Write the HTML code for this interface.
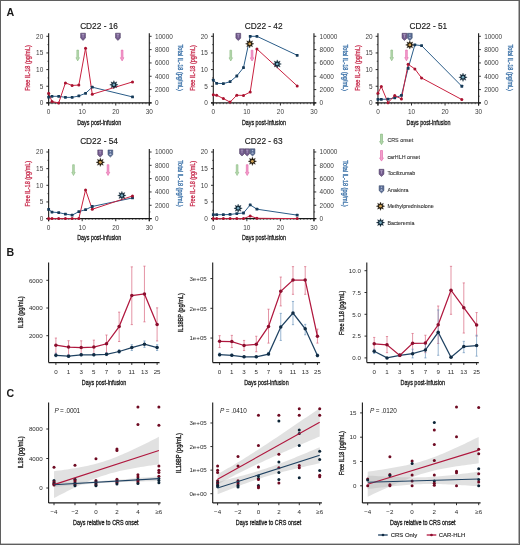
<!DOCTYPE html>
<html><head><meta charset="utf-8"><style>
html,body{margin:0;padding:0;background:#fff;}
body{width:520px;height:545px;overflow:hidden;}
svg{display:block;will-change:transform;filter:blur(0.3px);}
text{font-family:"Liberation Sans", sans-serif;}
</style></head><body>
<svg width="520" height="545" viewBox="0 0 520 545">
<text x="6.5" y="16.0" font-size="10.7" font-weight="bold" fill="#1a1a1a">A</text>
<text x="99.05" y="28.90" font-size="8.3" fill="#1a1a1a" text-anchor="middle" stroke="#1a1a1a" stroke-width="0.15">CD22 - 16</text>
<line x1="48.65" y1="33.30" x2="48.65" y2="105.50" stroke="#1a1a1a" stroke-width="1.1" />
<line x1="46.35" y1="102.90" x2="48.65" y2="102.90" stroke="#1a1a1a" stroke-width="0.9" />
<text x="43.25" y="105.15" font-size="6.45" fill="#404040" text-anchor="end" >0</text>
<line x1="46.35" y1="86.25" x2="48.65" y2="86.25" stroke="#1a1a1a" stroke-width="0.9" />
<text x="43.25" y="88.50" font-size="6.45" fill="#404040" text-anchor="end" >5</text>
<line x1="46.35" y1="69.60" x2="48.65" y2="69.60" stroke="#1a1a1a" stroke-width="0.9" />
<text x="43.25" y="71.85" font-size="6.45" fill="#404040" text-anchor="end" >10</text>
<line x1="46.35" y1="52.95" x2="48.65" y2="52.95" stroke="#1a1a1a" stroke-width="0.9" />
<text x="43.25" y="55.20" font-size="6.45" fill="#404040" text-anchor="end" >15</text>
<line x1="46.35" y1="36.30" x2="48.65" y2="36.30" stroke="#1a1a1a" stroke-width="0.9" />
<text x="43.25" y="38.55" font-size="6.45" fill="#404040" text-anchor="end" >20</text>
<line x1="47.45" y1="94.58" x2="48.65" y2="94.58" stroke="#1a1a1a" stroke-width="0.7" />
<line x1="47.45" y1="77.93" x2="48.65" y2="77.93" stroke="#1a1a1a" stroke-width="0.7" />
<line x1="47.45" y1="61.28" x2="48.65" y2="61.28" stroke="#1a1a1a" stroke-width="0.7" />
<line x1="47.45" y1="44.63" x2="48.65" y2="44.63" stroke="#1a1a1a" stroke-width="0.7" />
<line x1="149.30" y1="33.30" x2="149.30" y2="105.50" stroke="#1a1a1a" stroke-width="1.1" />
<line x1="149.30" y1="102.90" x2="151.60" y2="102.90" stroke="#1a1a1a" stroke-width="0.9" />
<text x="154.90" y="105.15" font-size="6.45" fill="#404040" text-anchor="start" >0</text>
<line x1="149.30" y1="89.58" x2="151.60" y2="89.58" stroke="#1a1a1a" stroke-width="0.9" />
<text x="154.90" y="91.83" font-size="6.45" fill="#404040" text-anchor="start" >2000</text>
<line x1="149.30" y1="76.26" x2="151.60" y2="76.26" stroke="#1a1a1a" stroke-width="0.9" />
<text x="154.90" y="78.51" font-size="6.45" fill="#404040" text-anchor="start" >4000</text>
<line x1="149.30" y1="62.94" x2="151.60" y2="62.94" stroke="#1a1a1a" stroke-width="0.9" />
<text x="154.90" y="65.19" font-size="6.45" fill="#404040" text-anchor="start" >6000</text>
<line x1="149.30" y1="49.62" x2="151.60" y2="49.62" stroke="#1a1a1a" stroke-width="0.9" />
<text x="154.90" y="51.87" font-size="6.45" fill="#404040" text-anchor="start" >8000</text>
<line x1="149.30" y1="36.30" x2="151.60" y2="36.30" stroke="#1a1a1a" stroke-width="0.9" />
<text x="154.90" y="38.55" font-size="6.45" fill="#404040" text-anchor="start" >10000</text>
<line x1="149.30" y1="96.24" x2="150.50" y2="96.24" stroke="#1a1a1a" stroke-width="0.7" />
<line x1="149.30" y1="82.92" x2="150.50" y2="82.92" stroke="#1a1a1a" stroke-width="0.7" />
<line x1="149.30" y1="69.60" x2="150.50" y2="69.60" stroke="#1a1a1a" stroke-width="0.7" />
<line x1="149.30" y1="56.28" x2="150.50" y2="56.28" stroke="#1a1a1a" stroke-width="0.7" />
<line x1="149.30" y1="42.96" x2="150.50" y2="42.96" stroke="#1a1a1a" stroke-width="0.7" />
<line x1="46.35" y1="102.90" x2="151.60" y2="102.90" stroke="#1a1a1a" stroke-width="1.1" />
<line x1="48.65" y1="102.90" x2="48.65" y2="105.50" stroke="#1a1a1a" stroke-width="0.9" />
<text x="48.65" y="114.10" font-size="6.45" fill="#404040" text-anchor="middle" >0</text>
<line x1="52.00" y1="102.90" x2="52.00" y2="104.20" stroke="#1a1a1a" stroke-width="0.6" />
<line x1="55.36" y1="102.90" x2="55.36" y2="104.20" stroke="#1a1a1a" stroke-width="0.6" />
<line x1="58.71" y1="102.90" x2="58.71" y2="104.20" stroke="#1a1a1a" stroke-width="0.6" />
<line x1="62.07" y1="102.90" x2="62.07" y2="104.20" stroke="#1a1a1a" stroke-width="0.6" />
<line x1="65.42" y1="102.90" x2="65.42" y2="104.20" stroke="#1a1a1a" stroke-width="0.6" />
<line x1="68.78" y1="102.90" x2="68.78" y2="104.20" stroke="#1a1a1a" stroke-width="0.6" />
<line x1="72.13" y1="102.90" x2="72.13" y2="104.20" stroke="#1a1a1a" stroke-width="0.6" />
<line x1="75.49" y1="102.90" x2="75.49" y2="104.20" stroke="#1a1a1a" stroke-width="0.6" />
<line x1="78.84" y1="102.90" x2="78.84" y2="104.20" stroke="#1a1a1a" stroke-width="0.6" />
<line x1="82.20" y1="102.90" x2="82.20" y2="105.50" stroke="#1a1a1a" stroke-width="0.9" />
<text x="82.20" y="114.10" font-size="6.45" fill="#404040" text-anchor="middle" >10</text>
<line x1="85.56" y1="102.90" x2="85.56" y2="104.20" stroke="#1a1a1a" stroke-width="0.6" />
<line x1="88.91" y1="102.90" x2="88.91" y2="104.20" stroke="#1a1a1a" stroke-width="0.6" />
<line x1="92.27" y1="102.90" x2="92.27" y2="104.20" stroke="#1a1a1a" stroke-width="0.6" />
<line x1="95.62" y1="102.90" x2="95.62" y2="104.20" stroke="#1a1a1a" stroke-width="0.6" />
<line x1="98.97" y1="102.90" x2="98.97" y2="104.20" stroke="#1a1a1a" stroke-width="0.6" />
<line x1="102.33" y1="102.90" x2="102.33" y2="104.20" stroke="#1a1a1a" stroke-width="0.6" />
<line x1="105.69" y1="102.90" x2="105.69" y2="104.20" stroke="#1a1a1a" stroke-width="0.6" />
<line x1="109.04" y1="102.90" x2="109.04" y2="104.20" stroke="#1a1a1a" stroke-width="0.6" />
<line x1="112.39" y1="102.90" x2="112.39" y2="104.20" stroke="#1a1a1a" stroke-width="0.6" />
<line x1="115.75" y1="102.90" x2="115.75" y2="105.50" stroke="#1a1a1a" stroke-width="0.9" />
<text x="115.75" y="114.10" font-size="6.45" fill="#404040" text-anchor="middle" >20</text>
<line x1="119.10" y1="102.90" x2="119.10" y2="104.20" stroke="#1a1a1a" stroke-width="0.6" />
<line x1="122.46" y1="102.90" x2="122.46" y2="104.20" stroke="#1a1a1a" stroke-width="0.6" />
<line x1="125.81" y1="102.90" x2="125.81" y2="104.20" stroke="#1a1a1a" stroke-width="0.6" />
<line x1="129.17" y1="102.90" x2="129.17" y2="104.20" stroke="#1a1a1a" stroke-width="0.6" />
<line x1="132.53" y1="102.90" x2="132.53" y2="104.20" stroke="#1a1a1a" stroke-width="0.6" />
<line x1="135.88" y1="102.90" x2="135.88" y2="104.20" stroke="#1a1a1a" stroke-width="0.6" />
<line x1="139.23" y1="102.90" x2="139.23" y2="104.20" stroke="#1a1a1a" stroke-width="0.6" />
<line x1="142.59" y1="102.90" x2="142.59" y2="104.20" stroke="#1a1a1a" stroke-width="0.6" />
<line x1="145.94" y1="102.90" x2="145.94" y2="104.20" stroke="#1a1a1a" stroke-width="0.6" />
<line x1="149.30" y1="102.90" x2="149.30" y2="105.50" stroke="#1a1a1a" stroke-width="0.9" />
<text x="149.30" y="114.10" font-size="6.45" fill="#404040" text-anchor="middle" >30</text>
<text x="99.25" y="124.60" font-size="7.5" fill="#1a1a1a" text-anchor="middle" textLength="44.0" lengthAdjust="spacingAndGlyphs" stroke="#1a1a1a" stroke-width="0.3">Days post-infusion</text>
<text transform="translate(28.00,68.05) rotate(-90)" x="0" y="2.34" font-size="6.5" fill="#c83050" text-anchor="middle" textLength="45.6" lengthAdjust="spacingAndGlyphs" stroke="#c83050" stroke-width="0.3">Free IL-18 (pg/mL)</text>
<text transform="translate(180.55,67.75) rotate(90)" x="0" y="2.34" font-size="6.5" fill="#3b71a8" text-anchor="middle" textLength="46.3" lengthAdjust="spacingAndGlyphs" stroke="#3b71a8" stroke-width="0.3">Total IL-18 (pg/mL)</text>
<polyline points="48.65,97.20 52.00,96.31 58.71,96.31 65.42,97.37 72.13,97.37 78.84,95.97 85.56,93.31 92.27,87.18 132.53,96.91" fill="none" stroke="#2a5c88" stroke-width="1"/>
<polyline points="48.65,93.31 52.00,101.57 58.71,102.90 65.42,82.92 72.13,85.42 78.84,85.08 85.56,48.29 92.27,94.24 132.53,81.92" fill="none" stroke="#c8203f" stroke-width="1"/>
<rect x="47.25" y="95.80" width="2.8" height="2.8" rx="0.4" fill="#163a58"/>
<rect x="50.60" y="94.91" width="2.8" height="2.8" rx="0.4" fill="#163a58"/>
<rect x="57.31" y="94.91" width="2.8" height="2.8" rx="0.4" fill="#163a58"/>
<rect x="64.02" y="95.97" width="2.8" height="2.8" rx="0.4" fill="#163a58"/>
<rect x="70.73" y="95.97" width="2.8" height="2.8" rx="0.4" fill="#163a58"/>
<rect x="77.44" y="94.57" width="2.8" height="2.8" rx="0.4" fill="#163a58"/>
<rect x="84.16" y="91.91" width="2.8" height="2.8" rx="0.4" fill="#163a58"/>
<rect x="90.86" y="85.78" width="2.8" height="2.8" rx="0.4" fill="#163a58"/>
<rect x="131.12" y="95.51" width="2.8" height="2.8" rx="0.4" fill="#163a58"/>
<circle cx="48.65" cy="93.31" r="1.5" fill="#a8122f"/>
<circle cx="52.00" cy="101.57" r="1.5" fill="#a8122f"/>
<circle cx="58.71" cy="102.90" r="1.5" fill="#a8122f"/>
<circle cx="65.42" cy="82.92" r="1.5" fill="#a8122f"/>
<circle cx="72.13" cy="85.42" r="1.5" fill="#a8122f"/>
<circle cx="78.84" cy="85.08" r="1.5" fill="#a8122f"/>
<circle cx="85.56" cy="48.29" r="1.5" fill="#a8122f"/>
<circle cx="92.27" cy="94.24" r="1.5" fill="#a8122f"/>
<circle cx="132.53" cy="81.92" r="1.5" fill="#a8122f"/>
<path d="M80.64,33.20 L85.44,33.20 L85.44,38.10 L83.04,40.40 L80.64,38.10 Z" fill="#745c8e" stroke="#3e2e54" stroke-width="0.5"/>
<path d="M81.84,34.50 L84.24,34.50 M83.04,34.50 L83.04,37.60" stroke="#b0a0c4" stroke-width="0.8" fill="none"/>
<path d="M115.53,33.20 L120.33,33.20 L120.33,38.10 L117.93,40.40 L115.53,38.10 Z" fill="#745c8e" stroke="#3e2e54" stroke-width="0.5"/>
<path d="M116.73,34.50 L119.13,34.50 M117.93,34.50 L117.93,37.60" stroke="#b0a0c4" stroke-width="0.8" fill="none"/>
<path d="M76.85,50.10 L78.55,50.10 L78.55,57.70 L79.45,57.70 L77.70,60.90 L75.95,57.70 L76.85,57.70 Z" fill="#b8dab0" stroke="#88b880" stroke-width="0.6"/>
<path d="M121.27,50.10 L122.97,50.10 L122.97,57.70 L123.87,57.70 L122.12,60.90 L120.37,57.70 L121.27,57.70 Z" fill="#f5a0cf" stroke="#e060a4" stroke-width="0.6"/>
<polygon points="113.90,80.60 114.75,82.77 116.87,81.83 115.94,83.96 118.10,84.80 115.94,85.64 116.87,87.77 114.75,86.83 113.90,89.00 113.06,86.83 110.93,87.77 111.87,85.64 109.70,84.80 111.87,83.96 110.93,81.83 113.06,82.77" fill="#0e2636" stroke="#0e2636" stroke-width="0.3"/>
<circle cx="113.90" cy="84.80" r="1.30" fill="#7cb0c4"/>
<text x="263.70" y="28.90" font-size="8.3" fill="#1a1a1a" text-anchor="middle" stroke="#1a1a1a" stroke-width="0.15">CD22 - 42</text>
<line x1="213.30" y1="33.30" x2="213.30" y2="105.50" stroke="#1a1a1a" stroke-width="1.1" />
<line x1="211.00" y1="102.90" x2="213.30" y2="102.90" stroke="#1a1a1a" stroke-width="0.9" />
<text x="207.90" y="105.15" font-size="6.45" fill="#404040" text-anchor="end" >0</text>
<line x1="211.00" y1="86.25" x2="213.30" y2="86.25" stroke="#1a1a1a" stroke-width="0.9" />
<text x="207.90" y="88.50" font-size="6.45" fill="#404040" text-anchor="end" >5</text>
<line x1="211.00" y1="69.60" x2="213.30" y2="69.60" stroke="#1a1a1a" stroke-width="0.9" />
<text x="207.90" y="71.85" font-size="6.45" fill="#404040" text-anchor="end" >10</text>
<line x1="211.00" y1="52.95" x2="213.30" y2="52.95" stroke="#1a1a1a" stroke-width="0.9" />
<text x="207.90" y="55.20" font-size="6.45" fill="#404040" text-anchor="end" >15</text>
<line x1="211.00" y1="36.30" x2="213.30" y2="36.30" stroke="#1a1a1a" stroke-width="0.9" />
<text x="207.90" y="38.55" font-size="6.45" fill="#404040" text-anchor="end" >20</text>
<line x1="212.10" y1="94.58" x2="213.30" y2="94.58" stroke="#1a1a1a" stroke-width="0.7" />
<line x1="212.10" y1="77.93" x2="213.30" y2="77.93" stroke="#1a1a1a" stroke-width="0.7" />
<line x1="212.10" y1="61.28" x2="213.30" y2="61.28" stroke="#1a1a1a" stroke-width="0.7" />
<line x1="212.10" y1="44.63" x2="213.30" y2="44.63" stroke="#1a1a1a" stroke-width="0.7" />
<line x1="313.95" y1="33.30" x2="313.95" y2="105.50" stroke="#1a1a1a" stroke-width="1.1" />
<line x1="313.95" y1="102.90" x2="316.25" y2="102.90" stroke="#1a1a1a" stroke-width="0.9" />
<text x="319.55" y="105.15" font-size="6.45" fill="#404040" text-anchor="start" >0</text>
<line x1="313.95" y1="89.58" x2="316.25" y2="89.58" stroke="#1a1a1a" stroke-width="0.9" />
<text x="319.55" y="91.83" font-size="6.45" fill="#404040" text-anchor="start" >2000</text>
<line x1="313.95" y1="76.26" x2="316.25" y2="76.26" stroke="#1a1a1a" stroke-width="0.9" />
<text x="319.55" y="78.51" font-size="6.45" fill="#404040" text-anchor="start" >4000</text>
<line x1="313.95" y1="62.94" x2="316.25" y2="62.94" stroke="#1a1a1a" stroke-width="0.9" />
<text x="319.55" y="65.19" font-size="6.45" fill="#404040" text-anchor="start" >6000</text>
<line x1="313.95" y1="49.62" x2="316.25" y2="49.62" stroke="#1a1a1a" stroke-width="0.9" />
<text x="319.55" y="51.87" font-size="6.45" fill="#404040" text-anchor="start" >8000</text>
<line x1="313.95" y1="36.30" x2="316.25" y2="36.30" stroke="#1a1a1a" stroke-width="0.9" />
<text x="319.55" y="38.55" font-size="6.45" fill="#404040" text-anchor="start" >10000</text>
<line x1="313.95" y1="96.24" x2="315.15" y2="96.24" stroke="#1a1a1a" stroke-width="0.7" />
<line x1="313.95" y1="82.92" x2="315.15" y2="82.92" stroke="#1a1a1a" stroke-width="0.7" />
<line x1="313.95" y1="69.60" x2="315.15" y2="69.60" stroke="#1a1a1a" stroke-width="0.7" />
<line x1="313.95" y1="56.28" x2="315.15" y2="56.28" stroke="#1a1a1a" stroke-width="0.7" />
<line x1="313.95" y1="42.96" x2="315.15" y2="42.96" stroke="#1a1a1a" stroke-width="0.7" />
<line x1="211.00" y1="102.90" x2="316.25" y2="102.90" stroke="#1a1a1a" stroke-width="1.1" />
<line x1="213.30" y1="102.90" x2="213.30" y2="105.50" stroke="#1a1a1a" stroke-width="0.9" />
<text x="213.30" y="114.10" font-size="6.45" fill="#404040" text-anchor="middle" >0</text>
<line x1="216.66" y1="102.90" x2="216.66" y2="104.20" stroke="#1a1a1a" stroke-width="0.6" />
<line x1="220.01" y1="102.90" x2="220.01" y2="104.20" stroke="#1a1a1a" stroke-width="0.6" />
<line x1="223.37" y1="102.90" x2="223.37" y2="104.20" stroke="#1a1a1a" stroke-width="0.6" />
<line x1="226.72" y1="102.90" x2="226.72" y2="104.20" stroke="#1a1a1a" stroke-width="0.6" />
<line x1="230.08" y1="102.90" x2="230.08" y2="104.20" stroke="#1a1a1a" stroke-width="0.6" />
<line x1="233.43" y1="102.90" x2="233.43" y2="104.20" stroke="#1a1a1a" stroke-width="0.6" />
<line x1="236.79" y1="102.90" x2="236.79" y2="104.20" stroke="#1a1a1a" stroke-width="0.6" />
<line x1="240.14" y1="102.90" x2="240.14" y2="104.20" stroke="#1a1a1a" stroke-width="0.6" />
<line x1="243.50" y1="102.90" x2="243.50" y2="104.20" stroke="#1a1a1a" stroke-width="0.6" />
<line x1="246.85" y1="102.90" x2="246.85" y2="105.50" stroke="#1a1a1a" stroke-width="0.9" />
<text x="246.85" y="114.10" font-size="6.45" fill="#404040" text-anchor="middle" >10</text>
<line x1="250.21" y1="102.90" x2="250.21" y2="104.20" stroke="#1a1a1a" stroke-width="0.6" />
<line x1="253.56" y1="102.90" x2="253.56" y2="104.20" stroke="#1a1a1a" stroke-width="0.6" />
<line x1="256.92" y1="102.90" x2="256.92" y2="104.20" stroke="#1a1a1a" stroke-width="0.6" />
<line x1="260.27" y1="102.90" x2="260.27" y2="104.20" stroke="#1a1a1a" stroke-width="0.6" />
<line x1="263.62" y1="102.90" x2="263.62" y2="104.20" stroke="#1a1a1a" stroke-width="0.6" />
<line x1="266.98" y1="102.90" x2="266.98" y2="104.20" stroke="#1a1a1a" stroke-width="0.6" />
<line x1="270.34" y1="102.90" x2="270.34" y2="104.20" stroke="#1a1a1a" stroke-width="0.6" />
<line x1="273.69" y1="102.90" x2="273.69" y2="104.20" stroke="#1a1a1a" stroke-width="0.6" />
<line x1="277.05" y1="102.90" x2="277.05" y2="104.20" stroke="#1a1a1a" stroke-width="0.6" />
<line x1="280.40" y1="102.90" x2="280.40" y2="105.50" stroke="#1a1a1a" stroke-width="0.9" />
<text x="280.40" y="114.10" font-size="6.45" fill="#404040" text-anchor="middle" >20</text>
<line x1="283.75" y1="102.90" x2="283.75" y2="104.20" stroke="#1a1a1a" stroke-width="0.6" />
<line x1="287.11" y1="102.90" x2="287.11" y2="104.20" stroke="#1a1a1a" stroke-width="0.6" />
<line x1="290.47" y1="102.90" x2="290.47" y2="104.20" stroke="#1a1a1a" stroke-width="0.6" />
<line x1="293.82" y1="102.90" x2="293.82" y2="104.20" stroke="#1a1a1a" stroke-width="0.6" />
<line x1="297.18" y1="102.90" x2="297.18" y2="104.20" stroke="#1a1a1a" stroke-width="0.6" />
<line x1="300.53" y1="102.90" x2="300.53" y2="104.20" stroke="#1a1a1a" stroke-width="0.6" />
<line x1="303.88" y1="102.90" x2="303.88" y2="104.20" stroke="#1a1a1a" stroke-width="0.6" />
<line x1="307.24" y1="102.90" x2="307.24" y2="104.20" stroke="#1a1a1a" stroke-width="0.6" />
<line x1="310.60" y1="102.90" x2="310.60" y2="104.20" stroke="#1a1a1a" stroke-width="0.6" />
<line x1="313.95" y1="102.90" x2="313.95" y2="105.50" stroke="#1a1a1a" stroke-width="0.9" />
<text x="313.95" y="114.10" font-size="6.45" fill="#404040" text-anchor="middle" >30</text>
<text x="263.90" y="124.60" font-size="7.5" fill="#1a1a1a" text-anchor="middle" textLength="44.0" lengthAdjust="spacingAndGlyphs" stroke="#1a1a1a" stroke-width="0.3">Days post-infusion</text>
<text transform="translate(192.65,68.05) rotate(-90)" x="0" y="2.34" font-size="6.5" fill="#c83050" text-anchor="middle" textLength="45.6" lengthAdjust="spacingAndGlyphs" stroke="#c83050" stroke-width="0.3">Free IL-18 (pg/mL)</text>
<text transform="translate(345.20,67.75) rotate(90)" x="0" y="2.34" font-size="6.5" fill="#3b71a8" text-anchor="middle" textLength="46.3" lengthAdjust="spacingAndGlyphs" stroke="#3b71a8" stroke-width="0.3">Total IL-18 (pg/mL)</text>
<polyline points="213.30,80.20 216.66,83.30 223.37,83.60 230.08,81.70 236.79,75.99 243.50,67.60 250.21,36.30 256.92,36.30 297.18,55.28" fill="none" stroke="#2a5c88" stroke-width="1"/>
<polyline points="213.30,94.81 216.66,95.24 223.37,98.57 230.08,102.10 236.79,95.24 243.50,95.41 250.21,92.08 256.92,48.95 297.18,85.92" fill="none" stroke="#c8203f" stroke-width="1"/>
<rect x="211.90" y="78.80" width="2.8" height="2.8" rx="0.4" fill="#163a58"/>
<rect x="215.25" y="81.90" width="2.8" height="2.8" rx="0.4" fill="#163a58"/>
<rect x="221.97" y="82.20" width="2.8" height="2.8" rx="0.4" fill="#163a58"/>
<rect x="228.68" y="80.30" width="2.8" height="2.8" rx="0.4" fill="#163a58"/>
<rect x="235.39" y="74.59" width="2.8" height="2.8" rx="0.4" fill="#163a58"/>
<rect x="242.09" y="66.20" width="2.8" height="2.8" rx="0.4" fill="#163a58"/>
<rect x="248.81" y="34.90" width="2.8" height="2.8" rx="0.4" fill="#163a58"/>
<rect x="255.52" y="34.90" width="2.8" height="2.8" rx="0.4" fill="#163a58"/>
<rect x="295.78" y="53.88" width="2.8" height="2.8" rx="0.4" fill="#163a58"/>
<circle cx="213.30" cy="94.81" r="1.5" fill="#a8122f"/>
<circle cx="216.66" cy="95.24" r="1.5" fill="#a8122f"/>
<circle cx="223.37" cy="98.57" r="1.5" fill="#a8122f"/>
<circle cx="230.08" cy="102.10" r="1.5" fill="#a8122f"/>
<circle cx="236.79" cy="95.24" r="1.5" fill="#a8122f"/>
<circle cx="243.50" cy="95.41" r="1.5" fill="#a8122f"/>
<circle cx="250.21" cy="92.08" r="1.5" fill="#a8122f"/>
<circle cx="256.92" cy="48.95" r="1.5" fill="#a8122f"/>
<circle cx="297.18" cy="85.92" r="1.5" fill="#a8122f"/>
<path d="M235.89,33.30 L240.69,33.30 L240.69,38.20 L238.29,40.50 L235.89,38.20 Z" fill="#745c8e" stroke="#3e2e54" stroke-width="0.5"/>
<path d="M237.09,34.60 L239.49,34.60 M238.29,34.60 L238.29,37.70" stroke="#b0a0c4" stroke-width="0.8" fill="none"/>
<polygon points="249.70,39.60 250.54,41.77 252.67,40.83 251.73,42.96 253.90,43.80 251.73,44.64 252.67,46.77 250.54,45.83 249.70,48.00 248.86,45.83 246.73,46.77 247.67,44.64 245.50,43.80 247.67,42.96 246.73,40.83 248.86,41.77" fill="#1e1608" stroke="#1e1608" stroke-width="0.3"/>
<circle cx="249.70" cy="43.80" r="1.40" fill="#d2a458"/>
<path d="M229.90,50.20 L231.60,50.20 L231.60,57.80 L232.50,57.80 L230.75,61.00 L229.00,57.80 L229.90,57.80 Z" fill="#b8dab0" stroke="#88b880" stroke-width="0.6"/>
<path d="M251.20,50.20 L252.90,50.20 L252.90,57.80 L253.80,57.80 L252.05,61.00 L250.30,57.80 L251.20,57.80 Z" fill="#f5a0cf" stroke="#e060a4" stroke-width="0.6"/>
<polygon points="277.21,59.80 278.05,61.97 280.18,61.03 279.25,63.16 281.41,64.00 279.25,64.84 280.18,66.97 278.05,66.03 277.21,68.20 276.37,66.03 274.24,66.97 275.18,64.84 273.01,64.00 275.18,63.16 274.24,61.03 276.37,61.97" fill="#0e2636" stroke="#0e2636" stroke-width="0.3"/>
<circle cx="277.21" cy="64.00" r="1.30" fill="#7cb0c4"/>
<text x="428.35" y="28.90" font-size="8.3" fill="#1a1a1a" text-anchor="middle" stroke="#1a1a1a" stroke-width="0.15">CD22 - 51</text>
<line x1="377.95" y1="33.30" x2="377.95" y2="105.50" stroke="#1a1a1a" stroke-width="1.1" />
<line x1="375.65" y1="102.90" x2="377.95" y2="102.90" stroke="#1a1a1a" stroke-width="0.9" />
<text x="372.55" y="105.15" font-size="6.45" fill="#404040" text-anchor="end" >0</text>
<line x1="375.65" y1="86.25" x2="377.95" y2="86.25" stroke="#1a1a1a" stroke-width="0.9" />
<text x="372.55" y="88.50" font-size="6.45" fill="#404040" text-anchor="end" >5</text>
<line x1="375.65" y1="69.60" x2="377.95" y2="69.60" stroke="#1a1a1a" stroke-width="0.9" />
<text x="372.55" y="71.85" font-size="6.45" fill="#404040" text-anchor="end" >10</text>
<line x1="375.65" y1="52.95" x2="377.95" y2="52.95" stroke="#1a1a1a" stroke-width="0.9" />
<text x="372.55" y="55.20" font-size="6.45" fill="#404040" text-anchor="end" >15</text>
<line x1="375.65" y1="36.30" x2="377.95" y2="36.30" stroke="#1a1a1a" stroke-width="0.9" />
<text x="372.55" y="38.55" font-size="6.45" fill="#404040" text-anchor="end" >20</text>
<line x1="376.75" y1="94.58" x2="377.95" y2="94.58" stroke="#1a1a1a" stroke-width="0.7" />
<line x1="376.75" y1="77.93" x2="377.95" y2="77.93" stroke="#1a1a1a" stroke-width="0.7" />
<line x1="376.75" y1="61.28" x2="377.95" y2="61.28" stroke="#1a1a1a" stroke-width="0.7" />
<line x1="376.75" y1="44.63" x2="377.95" y2="44.63" stroke="#1a1a1a" stroke-width="0.7" />
<line x1="478.60" y1="33.30" x2="478.60" y2="105.50" stroke="#1a1a1a" stroke-width="1.1" />
<line x1="478.60" y1="102.90" x2="480.90" y2="102.90" stroke="#1a1a1a" stroke-width="0.9" />
<text x="484.20" y="105.15" font-size="6.45" fill="#404040" text-anchor="start" >0</text>
<line x1="478.60" y1="89.58" x2="480.90" y2="89.58" stroke="#1a1a1a" stroke-width="0.9" />
<text x="484.20" y="91.83" font-size="6.45" fill="#404040" text-anchor="start" >2000</text>
<line x1="478.60" y1="76.26" x2="480.90" y2="76.26" stroke="#1a1a1a" stroke-width="0.9" />
<text x="484.20" y="78.51" font-size="6.45" fill="#404040" text-anchor="start" >4000</text>
<line x1="478.60" y1="62.94" x2="480.90" y2="62.94" stroke="#1a1a1a" stroke-width="0.9" />
<text x="484.20" y="65.19" font-size="6.45" fill="#404040" text-anchor="start" >6000</text>
<line x1="478.60" y1="49.62" x2="480.90" y2="49.62" stroke="#1a1a1a" stroke-width="0.9" />
<text x="484.20" y="51.87" font-size="6.45" fill="#404040" text-anchor="start" >8000</text>
<line x1="478.60" y1="36.30" x2="480.90" y2="36.30" stroke="#1a1a1a" stroke-width="0.9" />
<text x="484.20" y="38.55" font-size="6.45" fill="#404040" text-anchor="start" >10000</text>
<line x1="478.60" y1="96.24" x2="479.80" y2="96.24" stroke="#1a1a1a" stroke-width="0.7" />
<line x1="478.60" y1="82.92" x2="479.80" y2="82.92" stroke="#1a1a1a" stroke-width="0.7" />
<line x1="478.60" y1="69.60" x2="479.80" y2="69.60" stroke="#1a1a1a" stroke-width="0.7" />
<line x1="478.60" y1="56.28" x2="479.80" y2="56.28" stroke="#1a1a1a" stroke-width="0.7" />
<line x1="478.60" y1="42.96" x2="479.80" y2="42.96" stroke="#1a1a1a" stroke-width="0.7" />
<line x1="375.65" y1="102.90" x2="480.90" y2="102.90" stroke="#1a1a1a" stroke-width="1.1" />
<line x1="377.95" y1="102.90" x2="377.95" y2="105.50" stroke="#1a1a1a" stroke-width="0.9" />
<text x="377.95" y="114.10" font-size="6.45" fill="#404040" text-anchor="middle" >0</text>
<line x1="381.31" y1="102.90" x2="381.31" y2="104.20" stroke="#1a1a1a" stroke-width="0.6" />
<line x1="384.66" y1="102.90" x2="384.66" y2="104.20" stroke="#1a1a1a" stroke-width="0.6" />
<line x1="388.01" y1="102.90" x2="388.01" y2="104.20" stroke="#1a1a1a" stroke-width="0.6" />
<line x1="391.37" y1="102.90" x2="391.37" y2="104.20" stroke="#1a1a1a" stroke-width="0.6" />
<line x1="394.72" y1="102.90" x2="394.72" y2="104.20" stroke="#1a1a1a" stroke-width="0.6" />
<line x1="398.08" y1="102.90" x2="398.08" y2="104.20" stroke="#1a1a1a" stroke-width="0.6" />
<line x1="401.44" y1="102.90" x2="401.44" y2="104.20" stroke="#1a1a1a" stroke-width="0.6" />
<line x1="404.79" y1="102.90" x2="404.79" y2="104.20" stroke="#1a1a1a" stroke-width="0.6" />
<line x1="408.14" y1="102.90" x2="408.14" y2="104.20" stroke="#1a1a1a" stroke-width="0.6" />
<line x1="411.50" y1="102.90" x2="411.50" y2="105.50" stroke="#1a1a1a" stroke-width="0.9" />
<text x="411.50" y="114.10" font-size="6.45" fill="#404040" text-anchor="middle" >10</text>
<line x1="414.86" y1="102.90" x2="414.86" y2="104.20" stroke="#1a1a1a" stroke-width="0.6" />
<line x1="418.21" y1="102.90" x2="418.21" y2="104.20" stroke="#1a1a1a" stroke-width="0.6" />
<line x1="421.56" y1="102.90" x2="421.56" y2="104.20" stroke="#1a1a1a" stroke-width="0.6" />
<line x1="424.92" y1="102.90" x2="424.92" y2="104.20" stroke="#1a1a1a" stroke-width="0.6" />
<line x1="428.27" y1="102.90" x2="428.27" y2="104.20" stroke="#1a1a1a" stroke-width="0.6" />
<line x1="431.63" y1="102.90" x2="431.63" y2="104.20" stroke="#1a1a1a" stroke-width="0.6" />
<line x1="434.99" y1="102.90" x2="434.99" y2="104.20" stroke="#1a1a1a" stroke-width="0.6" />
<line x1="438.34" y1="102.90" x2="438.34" y2="104.20" stroke="#1a1a1a" stroke-width="0.6" />
<line x1="441.69" y1="102.90" x2="441.69" y2="104.20" stroke="#1a1a1a" stroke-width="0.6" />
<line x1="445.05" y1="102.90" x2="445.05" y2="105.50" stroke="#1a1a1a" stroke-width="0.9" />
<text x="445.05" y="114.10" font-size="6.45" fill="#404040" text-anchor="middle" >20</text>
<line x1="448.40" y1="102.90" x2="448.40" y2="104.20" stroke="#1a1a1a" stroke-width="0.6" />
<line x1="451.76" y1="102.90" x2="451.76" y2="104.20" stroke="#1a1a1a" stroke-width="0.6" />
<line x1="455.12" y1="102.90" x2="455.12" y2="104.20" stroke="#1a1a1a" stroke-width="0.6" />
<line x1="458.47" y1="102.90" x2="458.47" y2="104.20" stroke="#1a1a1a" stroke-width="0.6" />
<line x1="461.82" y1="102.90" x2="461.82" y2="104.20" stroke="#1a1a1a" stroke-width="0.6" />
<line x1="465.18" y1="102.90" x2="465.18" y2="104.20" stroke="#1a1a1a" stroke-width="0.6" />
<line x1="468.53" y1="102.90" x2="468.53" y2="104.20" stroke="#1a1a1a" stroke-width="0.6" />
<line x1="471.89" y1="102.90" x2="471.89" y2="104.20" stroke="#1a1a1a" stroke-width="0.6" />
<line x1="475.25" y1="102.90" x2="475.25" y2="104.20" stroke="#1a1a1a" stroke-width="0.6" />
<line x1="478.60" y1="102.90" x2="478.60" y2="105.50" stroke="#1a1a1a" stroke-width="0.9" />
<text x="478.60" y="114.10" font-size="6.45" fill="#404040" text-anchor="middle" >30</text>
<text x="428.55" y="124.60" font-size="7.5" fill="#1a1a1a" text-anchor="middle" textLength="44.0" lengthAdjust="spacingAndGlyphs" stroke="#1a1a1a" stroke-width="0.3">Days post-infusion</text>
<text transform="translate(357.30,68.05) rotate(-90)" x="0" y="2.34" font-size="6.5" fill="#c83050" text-anchor="middle" textLength="45.6" lengthAdjust="spacingAndGlyphs" stroke="#c83050" stroke-width="0.3">Free IL-18 (pg/mL)</text>
<text transform="translate(509.85,67.75) rotate(90)" x="0" y="2.34" font-size="6.5" fill="#3b71a8" text-anchor="middle" textLength="46.3" lengthAdjust="spacingAndGlyphs" stroke="#3b71a8" stroke-width="0.3">Total IL-18 (pg/mL)</text>
<polyline points="377.95,99.30 381.31,99.30 388.01,99.17 394.72,97.84 401.44,95.37 408.14,68.47 414.86,44.82 421.56,45.62 461.82,86.25" fill="none" stroke="#2a5c88" stroke-width="1"/>
<polyline points="377.95,93.24 381.31,86.58 388.01,102.73 394.72,95.57 401.44,98.90 408.14,64.27 414.86,68.93 421.56,77.93 461.82,99.57" fill="none" stroke="#c8203f" stroke-width="1"/>
<rect x="376.55" y="97.90" width="2.8" height="2.8" rx="0.4" fill="#163a58"/>
<rect x="379.91" y="97.90" width="2.8" height="2.8" rx="0.4" fill="#163a58"/>
<rect x="386.62" y="97.77" width="2.8" height="2.8" rx="0.4" fill="#163a58"/>
<rect x="393.32" y="96.44" width="2.8" height="2.8" rx="0.4" fill="#163a58"/>
<rect x="400.04" y="93.97" width="2.8" height="2.8" rx="0.4" fill="#163a58"/>
<rect x="406.75" y="67.07" width="2.8" height="2.8" rx="0.4" fill="#163a58"/>
<rect x="413.46" y="43.42" width="2.8" height="2.8" rx="0.4" fill="#163a58"/>
<rect x="420.17" y="44.22" width="2.8" height="2.8" rx="0.4" fill="#163a58"/>
<rect x="460.43" y="84.85" width="2.8" height="2.8" rx="0.4" fill="#163a58"/>
<circle cx="377.95" cy="93.24" r="1.5" fill="#a8122f"/>
<circle cx="381.31" cy="86.58" r="1.5" fill="#a8122f"/>
<circle cx="388.01" cy="102.73" r="1.5" fill="#a8122f"/>
<circle cx="394.72" cy="95.57" r="1.5" fill="#a8122f"/>
<circle cx="401.44" cy="98.90" r="1.5" fill="#a8122f"/>
<circle cx="408.14" cy="64.27" r="1.5" fill="#a8122f"/>
<circle cx="414.86" cy="68.93" r="1.5" fill="#a8122f"/>
<circle cx="421.56" cy="77.93" r="1.5" fill="#a8122f"/>
<circle cx="461.82" cy="99.57" r="1.5" fill="#a8122f"/>
<path d="M402.05,33.30 L406.85,33.30 L406.85,38.20 L404.45,40.50 L402.05,38.20 Z" fill="#745c8e" stroke="#3e2e54" stroke-width="0.5"/>
<path d="M403.25,34.60 L405.65,34.60 M404.45,34.60 L404.45,37.70" stroke="#b0a0c4" stroke-width="0.8" fill="none"/>
<path d="M407.42,33.30 L412.22,33.30 L412.22,38.20 L409.82,40.50 L407.42,38.20 Z" fill="#5a6c94" stroke="#364664" stroke-width="0.5"/>
<circle cx="409.82" cy="34.90" r="0.75" fill="#b0bcd6"/>
<path d="M408.52,38.30 Q409.82,35.10 411.12,38.30 Z" fill="#b0bcd6"/>
<polygon points="409.82,40.70 410.66,42.87 412.79,41.93 411.86,44.06 414.02,44.90 411.86,45.74 412.79,47.87 410.66,46.93 409.82,49.10 408.98,46.93 406.85,47.87 407.79,45.74 405.62,44.90 407.79,44.06 406.85,41.93 408.98,42.87" fill="#1e1608" stroke="#1e1608" stroke-width="0.3"/>
<circle cx="409.82" cy="44.90" r="1.40" fill="#d2a458"/>
<path d="M390.86,50.00 L392.56,50.00 L392.56,57.60 L393.46,57.60 L391.71,60.80 L389.96,57.60 L390.86,57.60 Z" fill="#b8dab0" stroke="#88b880" stroke-width="0.6"/>
<path d="M405.62,50.00 L407.32,50.00 L407.32,57.60 L408.22,57.60 L406.47,60.80 L404.72,57.60 L405.62,57.60 Z" fill="#f5a0cf" stroke="#e060a4" stroke-width="0.6"/>
<polygon points="463.00,73.10 463.84,75.27 465.97,74.33 465.03,76.46 467.20,77.30 465.03,78.14 465.97,80.27 463.84,79.33 463.00,81.50 462.16,79.33 460.03,80.27 460.97,78.14 458.80,77.30 460.97,76.46 460.03,74.33 462.16,75.27" fill="#0e2636" stroke="#0e2636" stroke-width="0.3"/>
<circle cx="463.00" cy="77.30" r="1.30" fill="#7cb0c4"/>
<text x="99.05" y="143.70" font-size="8.3" fill="#1a1a1a" text-anchor="middle" stroke="#1a1a1a" stroke-width="0.15">CD22 - 54</text>
<line x1="48.65" y1="149.00" x2="48.65" y2="221.20" stroke="#1a1a1a" stroke-width="1.1" />
<line x1="46.35" y1="218.60" x2="48.65" y2="218.60" stroke="#1a1a1a" stroke-width="0.9" />
<text x="43.25" y="220.85" font-size="6.45" fill="#404040" text-anchor="end" >0</text>
<line x1="46.35" y1="201.95" x2="48.65" y2="201.95" stroke="#1a1a1a" stroke-width="0.9" />
<text x="43.25" y="204.20" font-size="6.45" fill="#404040" text-anchor="end" >5</text>
<line x1="46.35" y1="185.30" x2="48.65" y2="185.30" stroke="#1a1a1a" stroke-width="0.9" />
<text x="43.25" y="187.55" font-size="6.45" fill="#404040" text-anchor="end" >10</text>
<line x1="46.35" y1="168.65" x2="48.65" y2="168.65" stroke="#1a1a1a" stroke-width="0.9" />
<text x="43.25" y="170.90" font-size="6.45" fill="#404040" text-anchor="end" >15</text>
<line x1="46.35" y1="152.00" x2="48.65" y2="152.00" stroke="#1a1a1a" stroke-width="0.9" />
<text x="43.25" y="154.25" font-size="6.45" fill="#404040" text-anchor="end" >20</text>
<line x1="47.45" y1="210.28" x2="48.65" y2="210.28" stroke="#1a1a1a" stroke-width="0.7" />
<line x1="47.45" y1="193.62" x2="48.65" y2="193.62" stroke="#1a1a1a" stroke-width="0.7" />
<line x1="47.45" y1="176.97" x2="48.65" y2="176.97" stroke="#1a1a1a" stroke-width="0.7" />
<line x1="47.45" y1="160.32" x2="48.65" y2="160.32" stroke="#1a1a1a" stroke-width="0.7" />
<line x1="149.30" y1="149.00" x2="149.30" y2="221.20" stroke="#1a1a1a" stroke-width="1.1" />
<line x1="149.30" y1="218.60" x2="151.60" y2="218.60" stroke="#1a1a1a" stroke-width="0.9" />
<text x="154.90" y="220.85" font-size="6.45" fill="#404040" text-anchor="start" >0</text>
<line x1="149.30" y1="205.28" x2="151.60" y2="205.28" stroke="#1a1a1a" stroke-width="0.9" />
<text x="154.90" y="207.53" font-size="6.45" fill="#404040" text-anchor="start" >2000</text>
<line x1="149.30" y1="191.96" x2="151.60" y2="191.96" stroke="#1a1a1a" stroke-width="0.9" />
<text x="154.90" y="194.21" font-size="6.45" fill="#404040" text-anchor="start" >4000</text>
<line x1="149.30" y1="178.64" x2="151.60" y2="178.64" stroke="#1a1a1a" stroke-width="0.9" />
<text x="154.90" y="180.89" font-size="6.45" fill="#404040" text-anchor="start" >6000</text>
<line x1="149.30" y1="165.32" x2="151.60" y2="165.32" stroke="#1a1a1a" stroke-width="0.9" />
<text x="154.90" y="167.57" font-size="6.45" fill="#404040" text-anchor="start" >8000</text>
<line x1="149.30" y1="152.00" x2="151.60" y2="152.00" stroke="#1a1a1a" stroke-width="0.9" />
<text x="154.90" y="154.25" font-size="6.45" fill="#404040" text-anchor="start" >10000</text>
<line x1="149.30" y1="211.94" x2="150.50" y2="211.94" stroke="#1a1a1a" stroke-width="0.7" />
<line x1="149.30" y1="198.62" x2="150.50" y2="198.62" stroke="#1a1a1a" stroke-width="0.7" />
<line x1="149.30" y1="185.30" x2="150.50" y2="185.30" stroke="#1a1a1a" stroke-width="0.7" />
<line x1="149.30" y1="171.98" x2="150.50" y2="171.98" stroke="#1a1a1a" stroke-width="0.7" />
<line x1="149.30" y1="158.66" x2="150.50" y2="158.66" stroke="#1a1a1a" stroke-width="0.7" />
<line x1="46.35" y1="218.60" x2="151.60" y2="218.60" stroke="#1a1a1a" stroke-width="1.1" />
<line x1="48.65" y1="218.60" x2="48.65" y2="221.20" stroke="#1a1a1a" stroke-width="0.9" />
<text x="48.65" y="229.80" font-size="6.45" fill="#404040" text-anchor="middle" >0</text>
<line x1="52.00" y1="218.60" x2="52.00" y2="219.90" stroke="#1a1a1a" stroke-width="0.6" />
<line x1="55.36" y1="218.60" x2="55.36" y2="219.90" stroke="#1a1a1a" stroke-width="0.6" />
<line x1="58.71" y1="218.60" x2="58.71" y2="219.90" stroke="#1a1a1a" stroke-width="0.6" />
<line x1="62.07" y1="218.60" x2="62.07" y2="219.90" stroke="#1a1a1a" stroke-width="0.6" />
<line x1="65.42" y1="218.60" x2="65.42" y2="219.90" stroke="#1a1a1a" stroke-width="0.6" />
<line x1="68.78" y1="218.60" x2="68.78" y2="219.90" stroke="#1a1a1a" stroke-width="0.6" />
<line x1="72.13" y1="218.60" x2="72.13" y2="219.90" stroke="#1a1a1a" stroke-width="0.6" />
<line x1="75.49" y1="218.60" x2="75.49" y2="219.90" stroke="#1a1a1a" stroke-width="0.6" />
<line x1="78.84" y1="218.60" x2="78.84" y2="219.90" stroke="#1a1a1a" stroke-width="0.6" />
<line x1="82.20" y1="218.60" x2="82.20" y2="221.20" stroke="#1a1a1a" stroke-width="0.9" />
<text x="82.20" y="229.80" font-size="6.45" fill="#404040" text-anchor="middle" >10</text>
<line x1="85.56" y1="218.60" x2="85.56" y2="219.90" stroke="#1a1a1a" stroke-width="0.6" />
<line x1="88.91" y1="218.60" x2="88.91" y2="219.90" stroke="#1a1a1a" stroke-width="0.6" />
<line x1="92.27" y1="218.60" x2="92.27" y2="219.90" stroke="#1a1a1a" stroke-width="0.6" />
<line x1="95.62" y1="218.60" x2="95.62" y2="219.90" stroke="#1a1a1a" stroke-width="0.6" />
<line x1="98.97" y1="218.60" x2="98.97" y2="219.90" stroke="#1a1a1a" stroke-width="0.6" />
<line x1="102.33" y1="218.60" x2="102.33" y2="219.90" stroke="#1a1a1a" stroke-width="0.6" />
<line x1="105.69" y1="218.60" x2="105.69" y2="219.90" stroke="#1a1a1a" stroke-width="0.6" />
<line x1="109.04" y1="218.60" x2="109.04" y2="219.90" stroke="#1a1a1a" stroke-width="0.6" />
<line x1="112.39" y1="218.60" x2="112.39" y2="219.90" stroke="#1a1a1a" stroke-width="0.6" />
<line x1="115.75" y1="218.60" x2="115.75" y2="221.20" stroke="#1a1a1a" stroke-width="0.9" />
<text x="115.75" y="229.80" font-size="6.45" fill="#404040" text-anchor="middle" >20</text>
<line x1="119.10" y1="218.60" x2="119.10" y2="219.90" stroke="#1a1a1a" stroke-width="0.6" />
<line x1="122.46" y1="218.60" x2="122.46" y2="219.90" stroke="#1a1a1a" stroke-width="0.6" />
<line x1="125.81" y1="218.60" x2="125.81" y2="219.90" stroke="#1a1a1a" stroke-width="0.6" />
<line x1="129.17" y1="218.60" x2="129.17" y2="219.90" stroke="#1a1a1a" stroke-width="0.6" />
<line x1="132.53" y1="218.60" x2="132.53" y2="219.90" stroke="#1a1a1a" stroke-width="0.6" />
<line x1="135.88" y1="218.60" x2="135.88" y2="219.90" stroke="#1a1a1a" stroke-width="0.6" />
<line x1="139.23" y1="218.60" x2="139.23" y2="219.90" stroke="#1a1a1a" stroke-width="0.6" />
<line x1="142.59" y1="218.60" x2="142.59" y2="219.90" stroke="#1a1a1a" stroke-width="0.6" />
<line x1="145.94" y1="218.60" x2="145.94" y2="219.90" stroke="#1a1a1a" stroke-width="0.6" />
<line x1="149.30" y1="218.60" x2="149.30" y2="221.20" stroke="#1a1a1a" stroke-width="0.9" />
<text x="149.30" y="229.80" font-size="6.45" fill="#404040" text-anchor="middle" >30</text>
<text x="99.25" y="240.30" font-size="7.5" fill="#1a1a1a" text-anchor="middle" textLength="44.0" lengthAdjust="spacingAndGlyphs" stroke="#1a1a1a" stroke-width="0.3">Days post-infusion</text>
<text transform="translate(28.00,183.75) rotate(-90)" x="0" y="2.34" font-size="6.5" fill="#c83050" text-anchor="middle" textLength="45.6" lengthAdjust="spacingAndGlyphs" stroke="#c83050" stroke-width="0.3">Free IL-18 (pg/mL)</text>
<text transform="translate(180.55,183.45) rotate(90)" x="0" y="2.34" font-size="6.5" fill="#3b71a8" text-anchor="middle" textLength="46.3" lengthAdjust="spacingAndGlyphs" stroke="#3b71a8" stroke-width="0.3">Total IL-18 (pg/mL)</text>
<polyline points="48.65,209.28 52.00,212.07 58.71,212.61 65.42,214.07 72.13,215.14 78.84,211.67 85.56,209.68 92.27,206.48 132.53,197.95" fill="none" stroke="#2a5c88" stroke-width="1"/>
<polyline points="48.65,218.60 52.00,218.60 58.71,218.60 65.42,218.60 72.13,218.60 78.84,218.60 85.56,189.96 92.27,209.28 132.53,195.96" fill="none" stroke="#c8203f" stroke-width="1"/>
<rect x="47.25" y="207.88" width="2.8" height="2.8" rx="0.4" fill="#163a58"/>
<rect x="50.60" y="210.67" width="2.8" height="2.8" rx="0.4" fill="#163a58"/>
<rect x="57.31" y="211.21" width="2.8" height="2.8" rx="0.4" fill="#163a58"/>
<rect x="64.02" y="212.67" width="2.8" height="2.8" rx="0.4" fill="#163a58"/>
<rect x="70.73" y="213.74" width="2.8" height="2.8" rx="0.4" fill="#163a58"/>
<rect x="77.44" y="210.27" width="2.8" height="2.8" rx="0.4" fill="#163a58"/>
<rect x="84.16" y="208.28" width="2.8" height="2.8" rx="0.4" fill="#163a58"/>
<rect x="90.86" y="205.08" width="2.8" height="2.8" rx="0.4" fill="#163a58"/>
<rect x="131.12" y="196.55" width="2.8" height="2.8" rx="0.4" fill="#163a58"/>
<circle cx="48.65" cy="218.60" r="1.5" fill="#a8122f"/>
<circle cx="52.00" cy="218.60" r="1.5" fill="#a8122f"/>
<circle cx="58.71" cy="218.60" r="1.5" fill="#a8122f"/>
<circle cx="65.42" cy="218.60" r="1.5" fill="#a8122f"/>
<circle cx="72.13" cy="218.60" r="1.5" fill="#a8122f"/>
<circle cx="78.84" cy="218.60" r="1.5" fill="#a8122f"/>
<circle cx="85.56" cy="189.96" r="1.5" fill="#a8122f"/>
<circle cx="92.27" cy="209.28" r="1.5" fill="#a8122f"/>
<circle cx="132.53" cy="195.96" r="1.5" fill="#a8122f"/>
<path d="M97.75,149.90 L102.55,149.90 L102.55,154.80 L100.15,157.10 L97.75,154.80 Z" fill="#745c8e" stroke="#3e2e54" stroke-width="0.5"/>
<path d="M98.95,151.20 L101.35,151.20 M100.15,151.20 L100.15,154.30" stroke="#b0a0c4" stroke-width="0.8" fill="none"/>
<path d="M107.98,149.90 L112.78,149.90 L112.78,154.80 L110.38,157.10 L107.98,154.80 Z" fill="#5a6c94" stroke="#364664" stroke-width="0.5"/>
<circle cx="110.38" cy="151.50" r="0.75" fill="#b0bcd6"/>
<path d="M109.08,154.90 Q110.38,151.70 111.68,154.90 Z" fill="#b0bcd6"/>
<polygon points="100.32,158.10 101.16,160.27 103.29,159.33 102.35,161.46 104.52,162.30 102.35,163.14 103.29,165.27 101.16,164.33 100.32,166.50 99.48,164.33 97.35,165.27 98.28,163.14 96.12,162.30 98.28,161.46 97.35,159.33 99.48,160.27" fill="#1e1608" stroke="#1e1608" stroke-width="0.3"/>
<circle cx="100.32" cy="162.30" r="1.40" fill="#d2a458"/>
<path d="M72.63,164.70 L74.33,164.70 L74.33,172.30 L75.23,172.30 L73.48,175.50 L71.73,172.30 L72.63,172.30 Z" fill="#b8dab0" stroke="#88b880" stroke-width="0.6"/>
<path d="M107.18,164.70 L108.88,164.70 L108.88,172.30 L109.78,172.30 L108.03,175.50 L106.28,172.30 L107.18,172.30 Z" fill="#f5a0cf" stroke="#e060a4" stroke-width="0.6"/>
<polygon points="121.89,191.30 122.73,193.47 124.86,192.53 123.92,194.66 126.09,195.50 123.92,196.34 124.86,198.47 122.73,197.53 121.89,199.70 121.05,197.53 118.92,198.47 119.86,196.34 117.69,195.50 119.86,194.66 118.92,192.53 121.05,193.47" fill="#0e2636" stroke="#0e2636" stroke-width="0.3"/>
<circle cx="121.89" cy="195.50" r="1.30" fill="#7cb0c4"/>
<text x="263.70" y="143.70" font-size="8.3" fill="#1a1a1a" text-anchor="middle" stroke="#1a1a1a" stroke-width="0.15">CD22 - 63</text>
<line x1="213.30" y1="149.00" x2="213.30" y2="221.20" stroke="#1a1a1a" stroke-width="1.1" />
<line x1="211.00" y1="218.60" x2="213.30" y2="218.60" stroke="#1a1a1a" stroke-width="0.9" />
<text x="207.90" y="220.85" font-size="6.45" fill="#404040" text-anchor="end" >0</text>
<line x1="211.00" y1="201.95" x2="213.30" y2="201.95" stroke="#1a1a1a" stroke-width="0.9" />
<text x="207.90" y="204.20" font-size="6.45" fill="#404040" text-anchor="end" >5</text>
<line x1="211.00" y1="185.30" x2="213.30" y2="185.30" stroke="#1a1a1a" stroke-width="0.9" />
<text x="207.90" y="187.55" font-size="6.45" fill="#404040" text-anchor="end" >10</text>
<line x1="211.00" y1="168.65" x2="213.30" y2="168.65" stroke="#1a1a1a" stroke-width="0.9" />
<text x="207.90" y="170.90" font-size="6.45" fill="#404040" text-anchor="end" >15</text>
<line x1="211.00" y1="152.00" x2="213.30" y2="152.00" stroke="#1a1a1a" stroke-width="0.9" />
<text x="207.90" y="154.25" font-size="6.45" fill="#404040" text-anchor="end" >20</text>
<line x1="212.10" y1="210.28" x2="213.30" y2="210.28" stroke="#1a1a1a" stroke-width="0.7" />
<line x1="212.10" y1="193.62" x2="213.30" y2="193.62" stroke="#1a1a1a" stroke-width="0.7" />
<line x1="212.10" y1="176.97" x2="213.30" y2="176.97" stroke="#1a1a1a" stroke-width="0.7" />
<line x1="212.10" y1="160.32" x2="213.30" y2="160.32" stroke="#1a1a1a" stroke-width="0.7" />
<line x1="313.95" y1="149.00" x2="313.95" y2="221.20" stroke="#1a1a1a" stroke-width="1.1" />
<line x1="313.95" y1="218.60" x2="316.25" y2="218.60" stroke="#1a1a1a" stroke-width="0.9" />
<text x="319.55" y="220.85" font-size="6.45" fill="#404040" text-anchor="start" >0</text>
<line x1="313.95" y1="205.28" x2="316.25" y2="205.28" stroke="#1a1a1a" stroke-width="0.9" />
<text x="319.55" y="207.53" font-size="6.45" fill="#404040" text-anchor="start" >2000</text>
<line x1="313.95" y1="191.96" x2="316.25" y2="191.96" stroke="#1a1a1a" stroke-width="0.9" />
<text x="319.55" y="194.21" font-size="6.45" fill="#404040" text-anchor="start" >4000</text>
<line x1="313.95" y1="178.64" x2="316.25" y2="178.64" stroke="#1a1a1a" stroke-width="0.9" />
<text x="319.55" y="180.89" font-size="6.45" fill="#404040" text-anchor="start" >6000</text>
<line x1="313.95" y1="165.32" x2="316.25" y2="165.32" stroke="#1a1a1a" stroke-width="0.9" />
<text x="319.55" y="167.57" font-size="6.45" fill="#404040" text-anchor="start" >8000</text>
<line x1="313.95" y1="152.00" x2="316.25" y2="152.00" stroke="#1a1a1a" stroke-width="0.9" />
<text x="319.55" y="154.25" font-size="6.45" fill="#404040" text-anchor="start" >10000</text>
<line x1="313.95" y1="211.94" x2="315.15" y2="211.94" stroke="#1a1a1a" stroke-width="0.7" />
<line x1="313.95" y1="198.62" x2="315.15" y2="198.62" stroke="#1a1a1a" stroke-width="0.7" />
<line x1="313.95" y1="185.30" x2="315.15" y2="185.30" stroke="#1a1a1a" stroke-width="0.7" />
<line x1="313.95" y1="171.98" x2="315.15" y2="171.98" stroke="#1a1a1a" stroke-width="0.7" />
<line x1="313.95" y1="158.66" x2="315.15" y2="158.66" stroke="#1a1a1a" stroke-width="0.7" />
<line x1="211.00" y1="218.60" x2="316.25" y2="218.60" stroke="#1a1a1a" stroke-width="1.1" />
<line x1="213.30" y1="218.60" x2="213.30" y2="221.20" stroke="#1a1a1a" stroke-width="0.9" />
<text x="213.30" y="229.80" font-size="6.45" fill="#404040" text-anchor="middle" >0</text>
<line x1="216.66" y1="218.60" x2="216.66" y2="219.90" stroke="#1a1a1a" stroke-width="0.6" />
<line x1="220.01" y1="218.60" x2="220.01" y2="219.90" stroke="#1a1a1a" stroke-width="0.6" />
<line x1="223.37" y1="218.60" x2="223.37" y2="219.90" stroke="#1a1a1a" stroke-width="0.6" />
<line x1="226.72" y1="218.60" x2="226.72" y2="219.90" stroke="#1a1a1a" stroke-width="0.6" />
<line x1="230.08" y1="218.60" x2="230.08" y2="219.90" stroke="#1a1a1a" stroke-width="0.6" />
<line x1="233.43" y1="218.60" x2="233.43" y2="219.90" stroke="#1a1a1a" stroke-width="0.6" />
<line x1="236.79" y1="218.60" x2="236.79" y2="219.90" stroke="#1a1a1a" stroke-width="0.6" />
<line x1="240.14" y1="218.60" x2="240.14" y2="219.90" stroke="#1a1a1a" stroke-width="0.6" />
<line x1="243.50" y1="218.60" x2="243.50" y2="219.90" stroke="#1a1a1a" stroke-width="0.6" />
<line x1="246.85" y1="218.60" x2="246.85" y2="221.20" stroke="#1a1a1a" stroke-width="0.9" />
<text x="246.85" y="229.80" font-size="6.45" fill="#404040" text-anchor="middle" >10</text>
<line x1="250.21" y1="218.60" x2="250.21" y2="219.90" stroke="#1a1a1a" stroke-width="0.6" />
<line x1="253.56" y1="218.60" x2="253.56" y2="219.90" stroke="#1a1a1a" stroke-width="0.6" />
<line x1="256.92" y1="218.60" x2="256.92" y2="219.90" stroke="#1a1a1a" stroke-width="0.6" />
<line x1="260.27" y1="218.60" x2="260.27" y2="219.90" stroke="#1a1a1a" stroke-width="0.6" />
<line x1="263.62" y1="218.60" x2="263.62" y2="219.90" stroke="#1a1a1a" stroke-width="0.6" />
<line x1="266.98" y1="218.60" x2="266.98" y2="219.90" stroke="#1a1a1a" stroke-width="0.6" />
<line x1="270.34" y1="218.60" x2="270.34" y2="219.90" stroke="#1a1a1a" stroke-width="0.6" />
<line x1="273.69" y1="218.60" x2="273.69" y2="219.90" stroke="#1a1a1a" stroke-width="0.6" />
<line x1="277.05" y1="218.60" x2="277.05" y2="219.90" stroke="#1a1a1a" stroke-width="0.6" />
<line x1="280.40" y1="218.60" x2="280.40" y2="221.20" stroke="#1a1a1a" stroke-width="0.9" />
<text x="280.40" y="229.80" font-size="6.45" fill="#404040" text-anchor="middle" >20</text>
<line x1="283.75" y1="218.60" x2="283.75" y2="219.90" stroke="#1a1a1a" stroke-width="0.6" />
<line x1="287.11" y1="218.60" x2="287.11" y2="219.90" stroke="#1a1a1a" stroke-width="0.6" />
<line x1="290.47" y1="218.60" x2="290.47" y2="219.90" stroke="#1a1a1a" stroke-width="0.6" />
<line x1="293.82" y1="218.60" x2="293.82" y2="219.90" stroke="#1a1a1a" stroke-width="0.6" />
<line x1="297.18" y1="218.60" x2="297.18" y2="219.90" stroke="#1a1a1a" stroke-width="0.6" />
<line x1="300.53" y1="218.60" x2="300.53" y2="219.90" stroke="#1a1a1a" stroke-width="0.6" />
<line x1="303.88" y1="218.60" x2="303.88" y2="219.90" stroke="#1a1a1a" stroke-width="0.6" />
<line x1="307.24" y1="218.60" x2="307.24" y2="219.90" stroke="#1a1a1a" stroke-width="0.6" />
<line x1="310.60" y1="218.60" x2="310.60" y2="219.90" stroke="#1a1a1a" stroke-width="0.6" />
<line x1="313.95" y1="218.60" x2="313.95" y2="221.20" stroke="#1a1a1a" stroke-width="0.9" />
<text x="313.95" y="229.80" font-size="6.45" fill="#404040" text-anchor="middle" >30</text>
<text x="263.90" y="240.30" font-size="7.5" fill="#1a1a1a" text-anchor="middle" textLength="44.0" lengthAdjust="spacingAndGlyphs" stroke="#1a1a1a" stroke-width="0.3">Days post-infusion</text>
<text transform="translate(192.65,183.75) rotate(-90)" x="0" y="2.34" font-size="6.5" fill="#c83050" text-anchor="middle" textLength="45.6" lengthAdjust="spacingAndGlyphs" stroke="#c83050" stroke-width="0.3">Free IL-18 (pg/mL)</text>
<text transform="translate(345.20,183.45) rotate(90)" x="0" y="2.34" font-size="6.5" fill="#3b71a8" text-anchor="middle" textLength="46.3" lengthAdjust="spacingAndGlyphs" stroke="#3b71a8" stroke-width="0.3">Total IL-18 (pg/mL)</text>
<polyline points="213.30,214.70 216.66,214.70 223.37,214.70 230.08,214.47 236.79,213.60 243.50,213.01 250.21,204.90 256.92,209.20 297.18,215.14" fill="none" stroke="#2a5c88" stroke-width="1"/>
<polyline points="213.30,218.60 216.66,218.60 223.37,218.60 230.08,218.60 236.79,218.60 243.50,218.60 250.21,215.94 256.92,218.27 297.18,218.60" fill="none" stroke="#c8203f" stroke-width="1"/>
<rect x="211.90" y="213.30" width="2.8" height="2.8" rx="0.4" fill="#163a58"/>
<rect x="215.25" y="213.30" width="2.8" height="2.8" rx="0.4" fill="#163a58"/>
<rect x="221.97" y="213.30" width="2.8" height="2.8" rx="0.4" fill="#163a58"/>
<rect x="228.68" y="213.07" width="2.8" height="2.8" rx="0.4" fill="#163a58"/>
<rect x="235.39" y="212.20" width="2.8" height="2.8" rx="0.4" fill="#163a58"/>
<rect x="242.09" y="211.61" width="2.8" height="2.8" rx="0.4" fill="#163a58"/>
<rect x="248.81" y="203.50" width="2.8" height="2.8" rx="0.4" fill="#163a58"/>
<rect x="255.52" y="207.80" width="2.8" height="2.8" rx="0.4" fill="#163a58"/>
<rect x="295.78" y="213.74" width="2.8" height="2.8" rx="0.4" fill="#163a58"/>
<circle cx="213.30" cy="218.60" r="1.5" fill="#a8122f"/>
<circle cx="216.66" cy="218.60" r="1.5" fill="#a8122f"/>
<circle cx="223.37" cy="218.60" r="1.5" fill="#a8122f"/>
<circle cx="230.08" cy="218.60" r="1.5" fill="#a8122f"/>
<circle cx="236.79" cy="218.60" r="1.5" fill="#a8122f"/>
<circle cx="243.50" cy="218.60" r="1.5" fill="#a8122f"/>
<circle cx="250.21" cy="215.94" r="1.5" fill="#a8122f"/>
<circle cx="256.92" cy="218.27" r="1.5" fill="#a8122f"/>
<circle cx="297.18" cy="218.60" r="1.5" fill="#a8122f"/>
<path d="M239.59,148.80 L244.39,148.80 L244.39,153.70 L241.99,156.00 L239.59,153.70 Z" fill="#745c8e" stroke="#3e2e54" stroke-width="0.5"/>
<path d="M240.79,150.10 L243.19,150.10 M241.99,150.10 L241.99,153.20" stroke="#b0a0c4" stroke-width="0.8" fill="none"/>
<path d="M244.79,148.80 L249.59,148.80 L249.59,153.70 L247.19,156.00 L244.79,153.70 Z" fill="#745c8e" stroke="#3e2e54" stroke-width="0.5"/>
<path d="M245.99,150.10 L248.39,150.10 M247.19,150.10 L247.19,153.20" stroke="#b0a0c4" stroke-width="0.8" fill="none"/>
<path d="M250.15,148.80 L254.95,148.80 L254.95,153.70 L252.55,156.00 L250.15,153.70 Z" fill="#5a6c94" stroke="#364664" stroke-width="0.5"/>
<circle cx="252.55" cy="150.40" r="0.75" fill="#b0bcd6"/>
<path d="M251.25,153.80 Q252.55,150.60 253.85,153.80 Z" fill="#b0bcd6"/>
<polygon points="252.39,157.10 253.23,159.27 255.36,158.33 254.42,160.46 256.59,161.30 254.42,162.14 255.36,164.27 253.23,163.33 252.39,165.50 251.54,163.33 249.42,164.27 250.35,162.14 248.19,161.30 250.35,160.46 249.42,158.33 251.54,159.27" fill="#1e1608" stroke="#1e1608" stroke-width="0.3"/>
<circle cx="252.39" cy="161.30" r="1.40" fill="#d2a458"/>
<path d="M236.27,164.70 L237.97,164.70 L237.97,172.30 L238.87,172.30 L237.12,175.50 L235.37,172.30 L236.27,172.30 Z" fill="#b8dab0" stroke="#88b880" stroke-width="0.6"/>
<path d="M246.34,164.70 L248.04,164.70 L248.04,172.30 L248.94,172.30 L247.19,175.50 L245.44,172.30 L246.34,172.30 Z" fill="#f5a0cf" stroke="#e060a4" stroke-width="0.6"/>
<polygon points="238.13,204.10 238.97,206.27 241.10,205.33 240.16,207.46 242.33,208.30 240.16,209.14 241.10,211.27 238.97,210.33 238.13,212.50 237.29,210.33 235.16,211.27 236.09,209.14 233.93,208.30 236.09,207.46 235.16,205.33 237.29,206.27" fill="#0e2636" stroke="#0e2636" stroke-width="0.3"/>
<circle cx="238.13" cy="208.30" r="1.30" fill="#7cb0c4"/>
<path d="M380.50,134.10 L382.50,134.10 L382.50,141.50 L383.45,141.50 L381.50,144.70 L379.55,141.50 L380.50,141.50 Z" fill="#b0d6a8" stroke="#82b47a" stroke-width="0.6"/>
<text x="387.40" y="142.30" font-size="5.35" fill="#333333" text-anchor="start" stroke="#333333" stroke-width="0.1">CRS onset</text>
<path d="M380.50,150.50 L382.50,150.50 L382.50,157.90 L383.45,157.90 L381.50,161.10 L379.55,157.90 L380.50,157.90 Z" fill="#f4a0cc" stroke="#e062a8" stroke-width="0.6"/>
<text x="387.40" y="158.70" font-size="5.35" fill="#333333" text-anchor="start" stroke="#333333" stroke-width="0.1">carHLH onset</text>
<path d="M379.10,169.30 L383.90,169.30 L383.90,174.20 L381.50,176.50 L379.10,174.20 Z" fill="#745c8e" stroke="#3e2e54" stroke-width="0.5"/>
<path d="M380.30,170.60 L382.70,170.60 M381.50,170.60 L381.50,173.70" stroke="#b0a0c4" stroke-width="0.8" fill="none"/>
<text x="387.40" y="175.20" font-size="5.35" fill="#333333" text-anchor="start" stroke="#333333" stroke-width="0.1">Tocilizumab</text>
<path d="M379.10,185.70 L383.90,185.70 L383.90,190.60 L381.50,192.90 L379.10,190.60 Z" fill="#5a6c94" stroke="#364664" stroke-width="0.5"/>
<circle cx="381.50" cy="187.30" r="0.75" fill="#b0bcd6"/>
<path d="M380.20,190.70 Q381.50,187.50 382.80,190.70 Z" fill="#b0bcd6"/>
<text x="387.40" y="191.60" font-size="5.35" fill="#333333" text-anchor="start" stroke="#333333" stroke-width="0.1">Anakinra</text>
<polygon points="380.50,202.00 381.34,204.17 383.47,203.23 382.53,205.36 384.70,206.20 382.53,207.04 383.47,209.17 381.34,208.23 380.50,210.40 379.66,208.23 377.53,209.17 378.47,207.04 376.30,206.20 378.47,205.36 377.53,203.23 379.66,204.17" fill="#1e1608" stroke="#1e1608" stroke-width="0.3"/>
<circle cx="380.50" cy="206.20" r="1.40" fill="#d2a458"/>
<text x="387.40" y="208.10" font-size="5.35" fill="#333333" text-anchor="start" stroke="#333333" stroke-width="0.1">Methylprednisolone</text>
<polygon points="380.50,218.40 381.34,220.57 383.47,219.63 382.53,221.76 384.70,222.60 382.53,223.44 383.47,225.57 381.34,224.63 380.50,226.80 379.66,224.63 377.53,225.57 378.47,223.44 376.30,222.60 378.47,221.76 377.53,219.63 379.66,220.57" fill="#0e2636" stroke="#0e2636" stroke-width="0.3"/>
<circle cx="380.50" cy="222.60" r="1.30" fill="#7cb0c4"/>
<text x="387.40" y="224.50" font-size="5.35" fill="#333333" text-anchor="start" stroke="#333333" stroke-width="0.1">Bacteremia</text>
<text x="6.5" y="256.4" font-size="10.6" font-weight="bold" fill="#1a1a1a">B</text>
<line x1="48.60" y1="262.40" x2="48.60" y2="362.60" stroke="#1a1a1a" stroke-width="1.1" />
<line x1="48.60" y1="362.60" x2="159.60" y2="362.60" stroke="#1a1a1a" stroke-width="1.1" />
<line x1="46.30" y1="335.70" x2="48.60" y2="335.70" stroke="#1a1a1a" stroke-width="0.9" />
<text x="42.70" y="337.90" font-size="6.2" fill="#2c2c2c" text-anchor="end" >2000</text>
<line x1="46.30" y1="308.00" x2="48.60" y2="308.00" stroke="#1a1a1a" stroke-width="0.9" />
<text x="42.70" y="310.20" font-size="6.2" fill="#2c2c2c" text-anchor="end" >4000</text>
<line x1="46.30" y1="280.30" x2="48.60" y2="280.30" stroke="#1a1a1a" stroke-width="0.9" />
<text x="42.70" y="282.50" font-size="6.2" fill="#2c2c2c" text-anchor="end" >6000</text>
<line x1="55.90" y1="362.60" x2="55.90" y2="364.90" stroke="#1a1a1a" stroke-width="0.9" />
<text x="55.90" y="373.90" font-size="6.2" fill="#2c2c2c" text-anchor="middle" >0</text>
<line x1="68.55" y1="362.60" x2="68.55" y2="364.90" stroke="#1a1a1a" stroke-width="0.9" />
<text x="68.55" y="373.90" font-size="6.2" fill="#2c2c2c" text-anchor="middle" >1</text>
<line x1="81.20" y1="362.60" x2="81.20" y2="364.90" stroke="#1a1a1a" stroke-width="0.9" />
<text x="81.20" y="373.90" font-size="6.2" fill="#2c2c2c" text-anchor="middle" >3</text>
<line x1="93.85" y1="362.60" x2="93.85" y2="364.90" stroke="#1a1a1a" stroke-width="0.9" />
<text x="93.85" y="373.90" font-size="6.2" fill="#2c2c2c" text-anchor="middle" >5</text>
<line x1="106.50" y1="362.60" x2="106.50" y2="364.90" stroke="#1a1a1a" stroke-width="0.9" />
<text x="106.50" y="373.90" font-size="6.2" fill="#2c2c2c" text-anchor="middle" >7</text>
<line x1="119.15" y1="362.60" x2="119.15" y2="364.90" stroke="#1a1a1a" stroke-width="0.9" />
<text x="119.15" y="373.90" font-size="6.2" fill="#2c2c2c" text-anchor="middle" >9</text>
<line x1="131.80" y1="362.60" x2="131.80" y2="364.90" stroke="#1a1a1a" stroke-width="0.9" />
<text x="131.80" y="373.90" font-size="6.2" fill="#2c2c2c" text-anchor="middle" >11</text>
<line x1="144.45" y1="362.60" x2="144.45" y2="364.90" stroke="#1a1a1a" stroke-width="0.9" />
<text x="144.45" y="373.90" font-size="6.2" fill="#2c2c2c" text-anchor="middle" >13</text>
<line x1="157.10" y1="362.60" x2="157.10" y2="364.90" stroke="#1a1a1a" stroke-width="0.9" />
<text x="157.10" y="373.90" font-size="6.2" fill="#2c2c2c" text-anchor="middle" >25</text>
<text x="104.10" y="384.60" font-size="7.5" fill="#1a1a1a" text-anchor="middle" textLength="44.5" lengthAdjust="spacingAndGlyphs" stroke="#1a1a1a" stroke-width="0.3">Days post-infusion</text>
<text transform="translate(20.90,312.25) rotate(-90)" x="0" y="2.38" font-size="6.6" fill="#1a1a1a" text-anchor="middle" textLength="32.0" lengthAdjust="spacingAndGlyphs" stroke="#1a1a1a" stroke-width="0.3">IL18 (pg/mL)</text>
<line x1="55.90" y1="353.29" x2="55.90" y2="338.05" stroke="#d9677f" stroke-width="0.7" />
<line x1="54.80" y1="353.29" x2="57.00" y2="353.29" stroke="#d9677f" stroke-width="0.7" />
<line x1="54.80" y1="338.05" x2="57.00" y2="338.05" stroke="#d9677f" stroke-width="0.7" />
<line x1="68.55" y1="354.81" x2="68.55" y2="340.69" stroke="#d9677f" stroke-width="0.7" />
<line x1="67.45" y1="354.81" x2="69.65" y2="354.81" stroke="#d9677f" stroke-width="0.7" />
<line x1="67.45" y1="340.69" x2="69.65" y2="340.69" stroke="#d9677f" stroke-width="0.7" />
<line x1="81.20" y1="354.40" x2="81.20" y2="340.82" stroke="#d9677f" stroke-width="0.7" />
<line x1="80.10" y1="354.40" x2="82.30" y2="354.40" stroke="#d9677f" stroke-width="0.7" />
<line x1="80.10" y1="340.82" x2="82.30" y2="340.82" stroke="#d9677f" stroke-width="0.7" />
<line x1="93.85" y1="354.26" x2="93.85" y2="340.13" stroke="#d9677f" stroke-width="0.7" />
<line x1="92.75" y1="354.26" x2="94.95" y2="354.26" stroke="#d9677f" stroke-width="0.7" />
<line x1="92.75" y1="340.13" x2="94.95" y2="340.13" stroke="#d9677f" stroke-width="0.7" />
<line x1="106.50" y1="352.87" x2="106.50" y2="335.01" stroke="#d9677f" stroke-width="0.7" />
<line x1="105.40" y1="352.87" x2="107.60" y2="352.87" stroke="#d9677f" stroke-width="0.7" />
<line x1="105.40" y1="335.01" x2="107.60" y2="335.01" stroke="#d9677f" stroke-width="0.7" />
<line x1="119.15" y1="341.52" x2="119.15" y2="312.15" stroke="#d9677f" stroke-width="0.7" />
<line x1="118.05" y1="341.52" x2="120.25" y2="341.52" stroke="#d9677f" stroke-width="0.7" />
<line x1="118.05" y1="312.15" x2="120.25" y2="312.15" stroke="#d9677f" stroke-width="0.7" />
<line x1="131.80" y1="324.62" x2="131.80" y2="266.87" stroke="#d9677f" stroke-width="0.7" />
<line x1="130.70" y1="324.62" x2="132.90" y2="324.62" stroke="#d9677f" stroke-width="0.7" />
<line x1="130.70" y1="266.87" x2="132.90" y2="266.87" stroke="#d9677f" stroke-width="0.7" />
<line x1="144.45" y1="321.85" x2="144.45" y2="266.17" stroke="#d9677f" stroke-width="0.7" />
<line x1="143.35" y1="321.85" x2="145.55" y2="321.85" stroke="#d9677f" stroke-width="0.7" />
<line x1="143.35" y1="266.17" x2="145.55" y2="266.17" stroke="#d9677f" stroke-width="0.7" />
<line x1="157.10" y1="340.96" x2="157.10" y2="307.86" stroke="#d9677f" stroke-width="0.7" />
<line x1="156.00" y1="340.96" x2="158.20" y2="340.96" stroke="#d9677f" stroke-width="0.7" />
<line x1="156.00" y1="307.86" x2="158.20" y2="307.86" stroke="#d9677f" stroke-width="0.7" />
<line x1="55.90" y1="356.75" x2="55.90" y2="353.29" stroke="#6f97bd" stroke-width="0.7" />
<line x1="54.80" y1="356.75" x2="57.00" y2="356.75" stroke="#6f97bd" stroke-width="0.7" />
<line x1="54.80" y1="353.29" x2="57.00" y2="353.29" stroke="#6f97bd" stroke-width="0.7" />
<line x1="68.55" y1="357.44" x2="68.55" y2="354.81" stroke="#6f97bd" stroke-width="0.7" />
<line x1="67.45" y1="357.44" x2="69.65" y2="357.44" stroke="#6f97bd" stroke-width="0.7" />
<line x1="67.45" y1="354.81" x2="69.65" y2="354.81" stroke="#6f97bd" stroke-width="0.7" />
<line x1="81.20" y1="355.92" x2="81.20" y2="353.70" stroke="#6f97bd" stroke-width="0.7" />
<line x1="80.10" y1="355.92" x2="82.30" y2="355.92" stroke="#6f97bd" stroke-width="0.7" />
<line x1="80.10" y1="353.70" x2="82.30" y2="353.70" stroke="#6f97bd" stroke-width="0.7" />
<line x1="93.85" y1="355.92" x2="93.85" y2="353.70" stroke="#6f97bd" stroke-width="0.7" />
<line x1="92.75" y1="355.92" x2="94.95" y2="355.92" stroke="#6f97bd" stroke-width="0.7" />
<line x1="92.75" y1="353.70" x2="94.95" y2="353.70" stroke="#6f97bd" stroke-width="0.7" />
<line x1="106.50" y1="355.64" x2="106.50" y2="352.87" stroke="#6f97bd" stroke-width="0.7" />
<line x1="105.40" y1="355.64" x2="107.60" y2="355.64" stroke="#6f97bd" stroke-width="0.7" />
<line x1="105.40" y1="352.87" x2="107.60" y2="352.87" stroke="#6f97bd" stroke-width="0.7" />
<line x1="119.15" y1="353.15" x2="119.15" y2="349.69" stroke="#6f97bd" stroke-width="0.7" />
<line x1="118.05" y1="353.15" x2="120.25" y2="353.15" stroke="#6f97bd" stroke-width="0.7" />
<line x1="118.05" y1="349.69" x2="120.25" y2="349.69" stroke="#6f97bd" stroke-width="0.7" />
<line x1="131.80" y1="350.52" x2="131.80" y2="344.70" stroke="#6f97bd" stroke-width="0.7" />
<line x1="130.70" y1="350.52" x2="132.90" y2="350.52" stroke="#6f97bd" stroke-width="0.7" />
<line x1="130.70" y1="344.70" x2="132.90" y2="344.70" stroke="#6f97bd" stroke-width="0.7" />
<line x1="144.45" y1="347.33" x2="144.45" y2="340.96" stroke="#6f97bd" stroke-width="0.7" />
<line x1="143.35" y1="347.33" x2="145.55" y2="347.33" stroke="#6f97bd" stroke-width="0.7" />
<line x1="143.35" y1="340.96" x2="145.55" y2="340.96" stroke="#6f97bd" stroke-width="0.7" />
<line x1="157.10" y1="350.52" x2="157.10" y2="344.70" stroke="#6f97bd" stroke-width="0.7" />
<line x1="156.00" y1="350.52" x2="158.20" y2="350.52" stroke="#6f97bd" stroke-width="0.7" />
<line x1="156.00" y1="344.70" x2="158.20" y2="344.70" stroke="#6f97bd" stroke-width="0.7" />
<polyline points="55.90,355.30 68.55,356.20 81.20,354.81 93.85,354.81 106.50,354.30 119.15,351.49 131.80,347.61 144.45,344.15 157.10,347.61" fill="none" stroke="#1f4262" stroke-width="1.25"/>
<polyline points="55.90,345.20 68.55,347.10 81.20,347.60 93.85,347.10 106.50,343.80 119.15,326.60 131.80,295.60 144.45,293.90 157.10,324.50" fill="none" stroke="#b0173e" stroke-width="1.25"/>
<circle cx="55.90" cy="355.30" r="1.75" fill="#112c44"/>
<circle cx="68.55" cy="356.20" r="1.75" fill="#112c44"/>
<circle cx="81.20" cy="354.81" r="1.75" fill="#112c44"/>
<circle cx="93.85" cy="354.81" r="1.75" fill="#112c44"/>
<circle cx="106.50" cy="354.30" r="1.75" fill="#112c44"/>
<circle cx="119.15" cy="351.49" r="1.75" fill="#112c44"/>
<circle cx="131.80" cy="347.61" r="1.75" fill="#112c44"/>
<circle cx="144.45" cy="344.15" r="1.75" fill="#112c44"/>
<circle cx="157.10" cy="347.61" r="1.75" fill="#112c44"/>
<circle cx="55.90" cy="345.20" r="1.75" fill="#8c0e2e"/>
<circle cx="68.55" cy="347.10" r="1.75" fill="#8c0e2e"/>
<circle cx="81.20" cy="347.60" r="1.75" fill="#8c0e2e"/>
<circle cx="93.85" cy="347.10" r="1.75" fill="#8c0e2e"/>
<circle cx="106.50" cy="343.80" r="1.75" fill="#8c0e2e"/>
<circle cx="119.15" cy="326.60" r="1.75" fill="#8c0e2e"/>
<circle cx="131.80" cy="295.60" r="1.75" fill="#8c0e2e"/>
<circle cx="144.45" cy="293.90" r="1.75" fill="#8c0e2e"/>
<circle cx="157.10" cy="324.50" r="1.75" fill="#8c0e2e"/>
<line x1="212.70" y1="262.40" x2="212.70" y2="362.60" stroke="#1a1a1a" stroke-width="1.1" />
<line x1="212.70" y1="362.60" x2="320.10" y2="362.60" stroke="#1a1a1a" stroke-width="1.1" />
<line x1="210.40" y1="338.05" x2="212.70" y2="338.05" stroke="#1a1a1a" stroke-width="0.9" />
<text x="206.80" y="340.25" font-size="6.2" fill="#2c2c2c" text-anchor="end" >1e+05</text>
<line x1="210.40" y1="308.30" x2="212.70" y2="308.30" stroke="#1a1a1a" stroke-width="0.9" />
<text x="206.80" y="310.50" font-size="6.2" fill="#2c2c2c" text-anchor="end" >2e+05</text>
<line x1="210.40" y1="278.55" x2="212.70" y2="278.55" stroke="#1a1a1a" stroke-width="0.9" />
<text x="206.80" y="280.75" font-size="6.2" fill="#2c2c2c" text-anchor="end" >3e+05</text>
<line x1="219.60" y1="362.60" x2="219.60" y2="364.90" stroke="#1a1a1a" stroke-width="0.9" />
<text x="219.60" y="373.90" font-size="6.2" fill="#2c2c2c" text-anchor="middle" >0</text>
<line x1="231.83" y1="362.60" x2="231.83" y2="364.90" stroke="#1a1a1a" stroke-width="0.9" />
<text x="231.83" y="373.90" font-size="6.2" fill="#2c2c2c" text-anchor="middle" >1</text>
<line x1="244.06" y1="362.60" x2="244.06" y2="364.90" stroke="#1a1a1a" stroke-width="0.9" />
<text x="244.06" y="373.90" font-size="6.2" fill="#2c2c2c" text-anchor="middle" >3</text>
<line x1="256.29" y1="362.60" x2="256.29" y2="364.90" stroke="#1a1a1a" stroke-width="0.9" />
<text x="256.29" y="373.90" font-size="6.2" fill="#2c2c2c" text-anchor="middle" >5</text>
<line x1="268.52" y1="362.60" x2="268.52" y2="364.90" stroke="#1a1a1a" stroke-width="0.9" />
<text x="268.52" y="373.90" font-size="6.2" fill="#2c2c2c" text-anchor="middle" >7</text>
<line x1="280.75" y1="362.60" x2="280.75" y2="364.90" stroke="#1a1a1a" stroke-width="0.9" />
<text x="280.75" y="373.90" font-size="6.2" fill="#2c2c2c" text-anchor="middle" >9</text>
<line x1="292.98" y1="362.60" x2="292.98" y2="364.90" stroke="#1a1a1a" stroke-width="0.9" />
<text x="292.98" y="373.90" font-size="6.2" fill="#2c2c2c" text-anchor="middle" >11</text>
<line x1="305.21" y1="362.60" x2="305.21" y2="364.90" stroke="#1a1a1a" stroke-width="0.9" />
<text x="305.21" y="373.90" font-size="6.2" fill="#2c2c2c" text-anchor="middle" >13</text>
<line x1="317.44" y1="362.60" x2="317.44" y2="364.90" stroke="#1a1a1a" stroke-width="0.9" />
<text x="317.44" y="373.90" font-size="6.2" fill="#2c2c2c" text-anchor="middle" >25</text>
<text x="266.40" y="384.60" font-size="7.5" fill="#1a1a1a" text-anchor="middle" textLength="44.5" lengthAdjust="spacingAndGlyphs" stroke="#1a1a1a" stroke-width="0.3">Days post-infusion</text>
<text transform="translate(180.80,312.75) rotate(-90)" x="0" y="2.38" font-size="6.6" fill="#1a1a1a" text-anchor="middle" textLength="39.0" lengthAdjust="spacingAndGlyphs" stroke="#1a1a1a" stroke-width="0.3">IL18BP (pg/mL)</text>
<line x1="219.60" y1="347.57" x2="219.60" y2="335.67" stroke="#d9677f" stroke-width="0.7" />
<line x1="218.50" y1="347.57" x2="220.70" y2="347.57" stroke="#d9677f" stroke-width="0.7" />
<line x1="218.50" y1="335.67" x2="220.70" y2="335.67" stroke="#d9677f" stroke-width="0.7" />
<line x1="231.83" y1="347.57" x2="231.83" y2="335.37" stroke="#d9677f" stroke-width="0.7" />
<line x1="230.73" y1="347.57" x2="232.93" y2="347.57" stroke="#d9677f" stroke-width="0.7" />
<line x1="230.73" y1="335.37" x2="232.93" y2="335.37" stroke="#d9677f" stroke-width="0.7" />
<line x1="244.06" y1="350.55" x2="244.06" y2="340.43" stroke="#d9677f" stroke-width="0.7" />
<line x1="242.96" y1="350.55" x2="245.16" y2="350.55" stroke="#d9677f" stroke-width="0.7" />
<line x1="242.96" y1="340.43" x2="245.16" y2="340.43" stroke="#d9677f" stroke-width="0.7" />
<line x1="256.29" y1="351.74" x2="256.29" y2="336.26" stroke="#d9677f" stroke-width="0.7" />
<line x1="255.19" y1="351.74" x2="257.39" y2="351.74" stroke="#d9677f" stroke-width="0.7" />
<line x1="255.19" y1="336.26" x2="257.39" y2="336.26" stroke="#d9677f" stroke-width="0.7" />
<line x1="268.52" y1="343.11" x2="268.52" y2="309.19" stroke="#d9677f" stroke-width="0.7" />
<line x1="267.42" y1="343.11" x2="269.62" y2="343.11" stroke="#d9677f" stroke-width="0.7" />
<line x1="267.42" y1="309.19" x2="269.62" y2="309.19" stroke="#d9677f" stroke-width="0.7" />
<line x1="280.75" y1="305.92" x2="280.75" y2="277.06" stroke="#d9677f" stroke-width="0.7" />
<line x1="279.65" y1="305.92" x2="281.85" y2="305.92" stroke="#d9677f" stroke-width="0.7" />
<line x1="279.65" y1="277.06" x2="281.85" y2="277.06" stroke="#d9677f" stroke-width="0.7" />
<line x1="292.98" y1="294.32" x2="292.98" y2="266.65" stroke="#d9677f" stroke-width="0.7" />
<line x1="291.88" y1="294.32" x2="294.08" y2="294.32" stroke="#d9677f" stroke-width="0.7" />
<line x1="291.88" y1="266.65" x2="294.08" y2="266.65" stroke="#d9677f" stroke-width="0.7" />
<line x1="305.21" y1="294.32" x2="305.21" y2="266.65" stroke="#d9677f" stroke-width="0.7" />
<line x1="304.11" y1="294.32" x2="306.31" y2="294.32" stroke="#d9677f" stroke-width="0.7" />
<line x1="304.11" y1="266.65" x2="306.31" y2="266.65" stroke="#d9677f" stroke-width="0.7" />
<line x1="317.44" y1="343.11" x2="317.44" y2="329.12" stroke="#d9677f" stroke-width="0.7" />
<line x1="316.34" y1="343.11" x2="318.54" y2="343.11" stroke="#d9677f" stroke-width="0.7" />
<line x1="316.34" y1="329.12" x2="318.54" y2="329.12" stroke="#d9677f" stroke-width="0.7" />
<line x1="219.60" y1="355.90" x2="219.60" y2="352.93" stroke="#6f97bd" stroke-width="0.7" />
<line x1="218.50" y1="355.90" x2="220.70" y2="355.90" stroke="#6f97bd" stroke-width="0.7" />
<line x1="218.50" y1="352.93" x2="220.70" y2="352.93" stroke="#6f97bd" stroke-width="0.7" />
<line x1="231.83" y1="356.50" x2="231.83" y2="354.12" stroke="#6f97bd" stroke-width="0.7" />
<line x1="230.73" y1="356.50" x2="232.93" y2="356.50" stroke="#6f97bd" stroke-width="0.7" />
<line x1="230.73" y1="354.12" x2="232.93" y2="354.12" stroke="#6f97bd" stroke-width="0.7" />
<line x1="244.06" y1="357.69" x2="244.06" y2="355.90" stroke="#6f97bd" stroke-width="0.7" />
<line x1="242.96" y1="357.69" x2="245.16" y2="357.69" stroke="#6f97bd" stroke-width="0.7" />
<line x1="242.96" y1="355.90" x2="245.16" y2="355.90" stroke="#6f97bd" stroke-width="0.7" />
<line x1="256.29" y1="357.69" x2="256.29" y2="355.90" stroke="#6f97bd" stroke-width="0.7" />
<line x1="255.19" y1="357.69" x2="257.39" y2="357.69" stroke="#6f97bd" stroke-width="0.7" />
<line x1="255.19" y1="355.90" x2="257.39" y2="355.90" stroke="#6f97bd" stroke-width="0.7" />
<line x1="268.52" y1="355.31" x2="268.52" y2="352.33" stroke="#6f97bd" stroke-width="0.7" />
<line x1="267.42" y1="355.31" x2="269.62" y2="355.31" stroke="#6f97bd" stroke-width="0.7" />
<line x1="267.42" y1="352.33" x2="269.62" y2="352.33" stroke="#6f97bd" stroke-width="0.7" />
<line x1="280.75" y1="340.43" x2="280.75" y2="313.36" stroke="#6f97bd" stroke-width="0.7" />
<line x1="279.65" y1="340.43" x2="281.85" y2="340.43" stroke="#6f97bd" stroke-width="0.7" />
<line x1="279.65" y1="313.36" x2="281.85" y2="313.36" stroke="#6f97bd" stroke-width="0.7" />
<line x1="292.98" y1="324.66" x2="292.98" y2="301.46" stroke="#6f97bd" stroke-width="0.7" />
<line x1="291.88" y1="324.66" x2="294.08" y2="324.66" stroke="#6f97bd" stroke-width="0.7" />
<line x1="291.88" y1="301.46" x2="294.08" y2="301.46" stroke="#6f97bd" stroke-width="0.7" />
<line x1="305.21" y1="334.78" x2="305.21" y2="324.37" stroke="#6f97bd" stroke-width="0.7" />
<line x1="304.11" y1="334.78" x2="306.31" y2="334.78" stroke="#6f97bd" stroke-width="0.7" />
<line x1="304.11" y1="324.37" x2="306.31" y2="324.37" stroke="#6f97bd" stroke-width="0.7" />
<line x1="317.44" y1="356.79" x2="317.44" y2="354.12" stroke="#6f97bd" stroke-width="0.7" />
<line x1="316.34" y1="356.79" x2="318.54" y2="356.79" stroke="#6f97bd" stroke-width="0.7" />
<line x1="316.34" y1="354.12" x2="318.54" y2="354.12" stroke="#6f97bd" stroke-width="0.7" />
<polyline points="219.60,354.71 231.83,355.31 244.06,356.79 256.29,356.79 268.52,354.12 280.75,327.04 292.98,313.06 305.21,328.83 317.44,355.60" fill="none" stroke="#1f4262" stroke-width="1.25"/>
<polyline points="219.60,341.32 231.83,341.62 244.06,345.49 256.29,344.30 268.52,326.45 280.75,291.34 292.98,280.04 305.21,280.04 317.44,336.26" fill="none" stroke="#b0173e" stroke-width="1.25"/>
<circle cx="219.60" cy="354.71" r="1.75" fill="#112c44"/>
<circle cx="231.83" cy="355.31" r="1.75" fill="#112c44"/>
<circle cx="244.06" cy="356.79" r="1.75" fill="#112c44"/>
<circle cx="256.29" cy="356.79" r="1.75" fill="#112c44"/>
<circle cx="268.52" cy="354.12" r="1.75" fill="#112c44"/>
<circle cx="280.75" cy="327.04" r="1.75" fill="#112c44"/>
<circle cx="292.98" cy="313.06" r="1.75" fill="#112c44"/>
<circle cx="305.21" cy="328.83" r="1.75" fill="#112c44"/>
<circle cx="317.44" cy="355.60" r="1.75" fill="#112c44"/>
<circle cx="219.60" cy="341.32" r="1.75" fill="#8c0e2e"/>
<circle cx="231.83" cy="341.62" r="1.75" fill="#8c0e2e"/>
<circle cx="244.06" cy="345.49" r="1.75" fill="#8c0e2e"/>
<circle cx="256.29" cy="344.30" r="1.75" fill="#8c0e2e"/>
<circle cx="268.52" cy="326.45" r="1.75" fill="#8c0e2e"/>
<circle cx="280.75" cy="291.34" r="1.75" fill="#8c0e2e"/>
<circle cx="292.98" cy="280.04" r="1.75" fill="#8c0e2e"/>
<circle cx="305.21" cy="280.04" r="1.75" fill="#8c0e2e"/>
<circle cx="317.44" cy="336.26" r="1.75" fill="#8c0e2e"/>
<line x1="366.80" y1="262.40" x2="366.80" y2="362.60" stroke="#1a1a1a" stroke-width="1.1" />
<line x1="366.80" y1="362.60" x2="478.80" y2="362.60" stroke="#1a1a1a" stroke-width="1.1" />
<line x1="364.50" y1="357.90" x2="366.80" y2="357.90" stroke="#1a1a1a" stroke-width="0.9" />
<text x="360.90" y="360.10" font-size="6.2" fill="#2c2c2c" text-anchor="end" >0.0</text>
<line x1="364.50" y1="336.10" x2="366.80" y2="336.10" stroke="#1a1a1a" stroke-width="0.9" />
<text x="360.90" y="338.30" font-size="6.2" fill="#2c2c2c" text-anchor="end" >2.5</text>
<line x1="364.50" y1="314.30" x2="366.80" y2="314.30" stroke="#1a1a1a" stroke-width="0.9" />
<text x="360.90" y="316.50" font-size="6.2" fill="#2c2c2c" text-anchor="end" >5.0</text>
<line x1="364.50" y1="292.50" x2="366.80" y2="292.50" stroke="#1a1a1a" stroke-width="0.9" />
<text x="360.90" y="294.70" font-size="6.2" fill="#2c2c2c" text-anchor="end" >7.5</text>
<line x1="364.50" y1="270.70" x2="366.80" y2="270.70" stroke="#1a1a1a" stroke-width="0.9" />
<text x="360.90" y="272.90" font-size="6.2" fill="#2c2c2c" text-anchor="end" >10.0</text>
<line x1="374.20" y1="362.60" x2="374.20" y2="364.90" stroke="#1a1a1a" stroke-width="0.9" />
<text x="374.20" y="373.90" font-size="6.2" fill="#2c2c2c" text-anchor="middle" >0</text>
<line x1="387.00" y1="362.60" x2="387.00" y2="364.90" stroke="#1a1a1a" stroke-width="0.9" />
<text x="387.00" y="373.90" font-size="6.2" fill="#2c2c2c" text-anchor="middle" >1</text>
<line x1="399.80" y1="362.60" x2="399.80" y2="364.90" stroke="#1a1a1a" stroke-width="0.9" />
<text x="399.80" y="373.90" font-size="6.2" fill="#2c2c2c" text-anchor="middle" >3</text>
<line x1="412.60" y1="362.60" x2="412.60" y2="364.90" stroke="#1a1a1a" stroke-width="0.9" />
<text x="412.60" y="373.90" font-size="6.2" fill="#2c2c2c" text-anchor="middle" >5</text>
<line x1="425.40" y1="362.60" x2="425.40" y2="364.90" stroke="#1a1a1a" stroke-width="0.9" />
<text x="425.40" y="373.90" font-size="6.2" fill="#2c2c2c" text-anchor="middle" >7</text>
<line x1="438.20" y1="362.60" x2="438.20" y2="364.90" stroke="#1a1a1a" stroke-width="0.9" />
<text x="438.20" y="373.90" font-size="6.2" fill="#2c2c2c" text-anchor="middle" >9</text>
<line x1="451.00" y1="362.60" x2="451.00" y2="364.90" stroke="#1a1a1a" stroke-width="0.9" />
<text x="451.00" y="373.90" font-size="6.2" fill="#2c2c2c" text-anchor="middle" >11</text>
<line x1="463.80" y1="362.60" x2="463.80" y2="364.90" stroke="#1a1a1a" stroke-width="0.9" />
<text x="463.80" y="373.90" font-size="6.2" fill="#2c2c2c" text-anchor="middle" >13</text>
<line x1="476.60" y1="362.60" x2="476.60" y2="364.90" stroke="#1a1a1a" stroke-width="0.9" />
<text x="476.60" y="373.90" font-size="6.2" fill="#2c2c2c" text-anchor="middle" >25</text>
<text x="422.80" y="384.60" font-size="7.5" fill="#1a1a1a" text-anchor="middle" textLength="44.5" lengthAdjust="spacingAndGlyphs" stroke="#1a1a1a" stroke-width="0.3">Days post-infusion</text>
<text transform="translate(341.20,312.75) rotate(-90)" x="0" y="2.38" font-size="6.6" fill="#1a1a1a" text-anchor="middle" textLength="44.4" lengthAdjust="spacingAndGlyphs" stroke="#1a1a1a" stroke-width="0.3">Free IL18 (pg/mL)</text>
<line x1="374.20" y1="350.05" x2="374.20" y2="337.41" stroke="#d9677f" stroke-width="0.7" />
<line x1="373.10" y1="350.05" x2="375.30" y2="350.05" stroke="#d9677f" stroke-width="0.7" />
<line x1="373.10" y1="337.41" x2="375.30" y2="337.41" stroke="#d9677f" stroke-width="0.7" />
<line x1="387.00" y1="352.67" x2="387.00" y2="336.54" stroke="#d9677f" stroke-width="0.7" />
<line x1="385.90" y1="352.67" x2="388.10" y2="352.67" stroke="#d9677f" stroke-width="0.7" />
<line x1="385.90" y1="336.54" x2="388.10" y2="336.54" stroke="#d9677f" stroke-width="0.7" />
<line x1="399.80" y1="356.59" x2="399.80" y2="353.98" stroke="#d9677f" stroke-width="0.7" />
<line x1="398.70" y1="356.59" x2="400.90" y2="356.59" stroke="#d9677f" stroke-width="0.7" />
<line x1="398.70" y1="353.98" x2="400.90" y2="353.98" stroke="#d9677f" stroke-width="0.7" />
<line x1="412.60" y1="353.98" x2="412.60" y2="333.48" stroke="#d9677f" stroke-width="0.7" />
<line x1="411.50" y1="353.98" x2="413.70" y2="353.98" stroke="#d9677f" stroke-width="0.7" />
<line x1="411.50" y1="333.48" x2="413.70" y2="333.48" stroke="#d9677f" stroke-width="0.7" />
<line x1="425.40" y1="352.67" x2="425.40" y2="335.23" stroke="#d9677f" stroke-width="0.7" />
<line x1="424.30" y1="352.67" x2="426.50" y2="352.67" stroke="#d9677f" stroke-width="0.7" />
<line x1="424.30" y1="335.23" x2="426.50" y2="335.23" stroke="#d9677f" stroke-width="0.7" />
<line x1="438.20" y1="343.51" x2="438.20" y2="306.02" stroke="#d9677f" stroke-width="0.7" />
<line x1="437.10" y1="343.51" x2="439.30" y2="343.51" stroke="#d9677f" stroke-width="0.7" />
<line x1="437.10" y1="306.02" x2="439.30" y2="306.02" stroke="#d9677f" stroke-width="0.7" />
<line x1="451.00" y1="314.30" x2="451.00" y2="266.34" stroke="#d9677f" stroke-width="0.7" />
<line x1="449.90" y1="314.30" x2="452.10" y2="314.30" stroke="#d9677f" stroke-width="0.7" />
<line x1="449.90" y1="266.34" x2="452.10" y2="266.34" stroke="#d9677f" stroke-width="0.7" />
<line x1="463.80" y1="333.05" x2="463.80" y2="282.91" stroke="#d9677f" stroke-width="0.7" />
<line x1="462.70" y1="333.05" x2="464.90" y2="333.05" stroke="#d9677f" stroke-width="0.7" />
<line x1="462.70" y1="282.91" x2="464.90" y2="282.91" stroke="#d9677f" stroke-width="0.7" />
<line x1="476.60" y1="336.10" x2="476.60" y2="312.56" stroke="#d9677f" stroke-width="0.7" />
<line x1="475.50" y1="336.10" x2="477.70" y2="336.10" stroke="#d9677f" stroke-width="0.7" />
<line x1="475.50" y1="312.56" x2="477.70" y2="312.56" stroke="#d9677f" stroke-width="0.7" />
<line x1="374.20" y1="353.54" x2="374.20" y2="349.18" stroke="#6f97bd" stroke-width="0.7" />
<line x1="373.10" y1="353.54" x2="375.30" y2="353.54" stroke="#6f97bd" stroke-width="0.7" />
<line x1="373.10" y1="349.18" x2="375.30" y2="349.18" stroke="#6f97bd" stroke-width="0.7" />
<line x1="399.80" y1="356.16" x2="399.80" y2="354.59" stroke="#6f97bd" stroke-width="0.7" />
<line x1="398.70" y1="356.16" x2="400.90" y2="356.16" stroke="#6f97bd" stroke-width="0.7" />
<line x1="398.70" y1="354.59" x2="400.90" y2="354.59" stroke="#6f97bd" stroke-width="0.7" />
<line x1="412.60" y1="357.90" x2="412.60" y2="349.18" stroke="#6f97bd" stroke-width="0.7" />
<line x1="411.50" y1="357.90" x2="413.70" y2="357.90" stroke="#6f97bd" stroke-width="0.7" />
<line x1="411.50" y1="349.18" x2="413.70" y2="349.18" stroke="#6f97bd" stroke-width="0.7" />
<line x1="425.40" y1="357.90" x2="425.40" y2="343.95" stroke="#6f97bd" stroke-width="0.7" />
<line x1="424.30" y1="357.90" x2="426.50" y2="357.90" stroke="#6f97bd" stroke-width="0.7" />
<line x1="424.30" y1="343.95" x2="426.50" y2="343.95" stroke="#6f97bd" stroke-width="0.7" />
<line x1="438.20" y1="355.28" x2="438.20" y2="309.94" stroke="#6f97bd" stroke-width="0.7" />
<line x1="437.10" y1="355.28" x2="439.30" y2="355.28" stroke="#6f97bd" stroke-width="0.7" />
<line x1="437.10" y1="309.94" x2="439.30" y2="309.94" stroke="#6f97bd" stroke-width="0.7" />
<line x1="463.80" y1="352.67" x2="463.80" y2="341.33" stroke="#6f97bd" stroke-width="0.7" />
<line x1="462.70" y1="352.67" x2="464.90" y2="352.67" stroke="#6f97bd" stroke-width="0.7" />
<line x1="462.70" y1="341.33" x2="464.90" y2="341.33" stroke="#6f97bd" stroke-width="0.7" />
<line x1="476.60" y1="356.16" x2="476.60" y2="335.23" stroke="#6f97bd" stroke-width="0.7" />
<line x1="475.50" y1="356.16" x2="477.70" y2="356.16" stroke="#6f97bd" stroke-width="0.7" />
<line x1="475.50" y1="335.23" x2="477.70" y2="335.23" stroke="#6f97bd" stroke-width="0.7" />
<polyline points="374.20,351.19 387.00,357.90 399.80,355.37 412.60,353.71 425.40,350.05 438.20,332.26 451.00,357.29 463.80,346.56 476.60,345.60" fill="none" stroke="#1f4262" stroke-width="1.25"/>
<polyline points="374.20,343.77 387.00,344.82 399.80,355.37 412.60,343.34 425.40,343.08 438.20,324.76 451.00,290.23 463.80,307.67 476.60,325.03" fill="none" stroke="#b0173e" stroke-width="1.25"/>
<circle cx="374.20" cy="351.19" r="1.75" fill="#112c44"/>
<circle cx="387.00" cy="357.90" r="1.75" fill="#112c44"/>
<circle cx="399.80" cy="355.37" r="1.75" fill="#112c44"/>
<circle cx="412.60" cy="353.71" r="1.75" fill="#112c44"/>
<circle cx="425.40" cy="350.05" r="1.75" fill="#112c44"/>
<circle cx="438.20" cy="332.26" r="1.75" fill="#112c44"/>
<circle cx="451.00" cy="357.29" r="1.75" fill="#112c44"/>
<circle cx="463.80" cy="346.56" r="1.75" fill="#112c44"/>
<circle cx="476.60" cy="345.60" r="1.75" fill="#112c44"/>
<circle cx="374.20" cy="343.77" r="1.75" fill="#8c0e2e"/>
<circle cx="387.00" cy="344.82" r="1.75" fill="#8c0e2e"/>
<circle cx="399.80" cy="355.37" r="1.75" fill="#8c0e2e"/>
<circle cx="412.60" cy="343.34" r="1.75" fill="#8c0e2e"/>
<circle cx="425.40" cy="343.08" r="1.75" fill="#8c0e2e"/>
<circle cx="438.20" cy="324.76" r="1.75" fill="#8c0e2e"/>
<circle cx="451.00" cy="290.23" r="1.75" fill="#8c0e2e"/>
<circle cx="463.80" cy="307.67" r="1.75" fill="#8c0e2e"/>
<circle cx="476.60" cy="325.03" r="1.75" fill="#8c0e2e"/>
<text x="6.5" y="396.6" font-size="10.6" font-weight="bold" fill="#1a1a1a">C</text>
<polygon points="54.00,471.21 56.62,470.86 59.24,470.51 61.87,470.14 64.49,469.77 67.11,469.38 69.73,468.98 72.36,468.57 74.98,468.14 77.60,467.69 80.22,467.22 82.85,466.72 85.47,466.19 88.09,465.64 90.72,465.05 93.34,464.42 95.96,463.74 98.58,463.03 101.20,462.26 103.83,461.45 106.45,460.58 109.07,459.67 111.70,458.72 114.32,457.72 116.94,456.68 119.56,455.61 122.19,454.50 124.81,453.36 127.43,452.19 130.05,451.00 132.68,449.79 135.30,448.55 137.92,447.30 140.54,446.03 143.17,444.75 145.79,443.46 148.41,442.16 151.03,440.84 153.66,439.52 156.28,438.19 158.90,436.85 158.90,464.35 156.28,464.71 153.66,465.08 151.03,465.46 148.41,465.85 145.79,466.25 143.17,466.65 140.54,467.07 137.92,467.51 135.30,467.95 132.68,468.42 130.05,468.91 127.43,469.41 124.81,469.95 122.19,470.51 119.56,471.10 116.94,471.72 114.32,472.39 111.70,473.09 109.07,473.83 106.45,474.63 103.83,475.46 101.20,476.35 98.58,477.28 95.96,478.27 93.34,479.29 90.72,480.36 88.09,481.47 85.47,482.62 82.85,483.79 80.22,485.00 77.60,486.23 74.98,487.48 72.36,488.74 69.73,490.03 67.11,491.33 64.49,492.65 61.87,493.97 59.24,495.31 56.62,496.65 54.00,498.01" fill="#b8b8b8" fill-opacity="0.42"/>
<polygon points="54.00,482.54 56.62,482.48 59.24,482.42 61.87,482.35 64.49,482.28 67.11,482.21 69.73,482.14 72.36,482.07 74.98,481.99 77.60,481.91 80.22,481.82 82.85,481.73 85.47,481.63 88.09,481.53 90.72,481.41 93.34,481.29 95.96,481.17 98.58,481.03 101.20,480.88 103.83,480.72 106.45,480.55 109.07,480.38 111.70,480.20 114.32,480.01 116.94,479.81 119.56,479.61 122.19,479.40 124.81,479.19 127.43,478.98 130.05,478.76 132.68,478.53 135.30,478.31 137.92,478.08 140.54,477.85 143.17,477.62 145.79,477.39 148.41,477.15 151.03,476.91 153.66,476.68 156.28,476.44 158.90,476.20 158.90,480.99 156.28,481.06 153.66,481.13 151.03,481.20 148.41,481.27 145.79,481.35 143.17,481.42 140.54,481.50 137.92,481.58 135.30,481.66 132.68,481.74 130.05,481.82 127.43,481.91 124.81,482.01 122.19,482.10 119.56,482.20 116.94,482.31 114.32,482.42 111.70,482.54 109.07,482.67 106.45,482.80 103.83,482.94 101.20,483.09 98.58,483.25 95.96,483.42 93.34,483.60 90.72,483.79 88.09,483.98 85.47,484.18 82.85,484.40 80.22,484.61 77.60,484.83 74.98,485.06 72.36,485.29 69.73,485.52 67.11,485.76 64.49,486.00 61.87,486.24 59.24,486.48 56.62,486.72 54.00,486.97" fill="#b8b8b8" fill-opacity="0.42"/>
<circle cx="54.00" cy="467.35" r="1.5" fill="#6e0a22"/>
<circle cx="54.00" cy="480.62" r="1.5" fill="#0c2436"/>
<circle cx="54.00" cy="481.73" r="1.5" fill="#6e0a22"/>
<circle cx="54.00" cy="482.84" r="1.5" fill="#6e0a22"/>
<circle cx="54.00" cy="483.57" r="1.5" fill="#0c2436"/>
<circle cx="54.00" cy="484.31" r="1.5" fill="#6e0a22"/>
<circle cx="54.00" cy="485.05" r="1.5" fill="#6e0a22"/>
<circle cx="74.98" cy="465.14" r="1.5" fill="#6e0a22"/>
<circle cx="74.98" cy="479.15" r="1.5" fill="#0c2436"/>
<circle cx="74.98" cy="480.62" r="1.5" fill="#6e0a22"/>
<circle cx="74.98" cy="482.10" r="1.5" fill="#6e0a22"/>
<circle cx="74.98" cy="483.57" r="1.5" fill="#0c2436"/>
<circle cx="74.98" cy="484.68" r="1.5" fill="#6e0a22"/>
<circle cx="74.98" cy="485.79" r="1.5" fill="#0c2436"/>
<circle cx="95.96" cy="458.87" r="1.5" fill="#6e0a22"/>
<circle cx="95.96" cy="480.62" r="1.5" fill="#6e0a22"/>
<circle cx="95.96" cy="481.73" r="1.5" fill="#0c2436"/>
<circle cx="95.96" cy="482.84" r="1.5" fill="#6e0a22"/>
<circle cx="95.96" cy="483.94" r="1.5" fill="#0c2436"/>
<circle cx="95.96" cy="485.05" r="1.5" fill="#6e0a22"/>
<circle cx="95.96" cy="485.79" r="1.5" fill="#0c2436"/>
<circle cx="116.94" cy="448.91" r="1.5" fill="#6e0a22"/>
<circle cx="116.94" cy="450.39" r="1.5" fill="#6e0a22"/>
<circle cx="116.94" cy="479.15" r="1.5" fill="#6e0a22"/>
<circle cx="116.94" cy="480.62" r="1.5" fill="#6e0a22"/>
<circle cx="116.94" cy="481.73" r="1.5" fill="#0c2436"/>
<circle cx="116.94" cy="482.84" r="1.5" fill="#6e0a22"/>
<circle cx="116.94" cy="483.94" r="1.5" fill="#0c2436"/>
<circle cx="137.92" cy="406.88" r="1.5" fill="#6e0a22"/>
<circle cx="137.92" cy="424.57" r="1.5" fill="#6e0a22"/>
<circle cx="137.92" cy="474.73" r="1.5" fill="#6e0a22"/>
<circle cx="137.92" cy="476.94" r="1.5" fill="#6e0a22"/>
<circle cx="137.92" cy="479.15" r="1.5" fill="#0c2436"/>
<circle cx="137.92" cy="480.62" r="1.5" fill="#6e0a22"/>
<circle cx="137.92" cy="482.10" r="1.5" fill="#6e0a22"/>
<circle cx="137.92" cy="483.57" r="1.5" fill="#0c2436"/>
<circle cx="158.90" cy="406.88" r="1.5" fill="#6e0a22"/>
<circle cx="158.90" cy="425.31" r="1.5" fill="#6e0a22"/>
<circle cx="158.90" cy="465.88" r="1.5" fill="#6e0a22"/>
<circle cx="158.90" cy="470.30" r="1.5" fill="#6e0a22"/>
<circle cx="158.90" cy="472.51" r="1.5" fill="#6e0a22"/>
<circle cx="158.90" cy="476.20" r="1.5" fill="#6e0a22"/>
<circle cx="158.90" cy="478.41" r="1.5" fill="#0c2436"/>
<circle cx="158.90" cy="480.62" r="1.5" fill="#0c2436"/>
<circle cx="158.90" cy="482.84" r="1.5" fill="#0c2436"/>
<line x1="54.00" y1="484.61" x2="158.90" y2="450.60" stroke="#b0173e" stroke-width="1.1" />
<line x1="54.00" y1="484.75" x2="158.90" y2="478.60" stroke="#1f4262" stroke-width="1.1" />
<line x1="48.60" y1="402.40" x2="48.60" y2="502.90" stroke="#1a1a1a" stroke-width="1.1" />
<line x1="48.60" y1="502.90" x2="160.60" y2="502.90" stroke="#1a1a1a" stroke-width="1.1" />
<line x1="46.30" y1="488.00" x2="48.60" y2="488.00" stroke="#1a1a1a" stroke-width="0.9" />
<text x="42.70" y="490.20" font-size="6.2" fill="#2c2c2c" text-anchor="end" >0</text>
<line x1="46.30" y1="458.50" x2="48.60" y2="458.50" stroke="#1a1a1a" stroke-width="0.9" />
<text x="42.70" y="460.70" font-size="6.2" fill="#2c2c2c" text-anchor="end" >4000</text>
<line x1="46.30" y1="429.00" x2="48.60" y2="429.00" stroke="#1a1a1a" stroke-width="0.9" />
<text x="42.70" y="431.20" font-size="6.2" fill="#2c2c2c" text-anchor="end" >8000</text>
<line x1="54.00" y1="502.90" x2="54.00" y2="505.20" stroke="#1a1a1a" stroke-width="0.9" />
<text x="54.00" y="514.40" font-size="6.2" fill="#2c2c2c" text-anchor="middle" >−4</text>
<line x1="74.98" y1="502.90" x2="74.98" y2="505.20" stroke="#1a1a1a" stroke-width="0.9" />
<text x="74.98" y="514.40" font-size="6.2" fill="#2c2c2c" text-anchor="middle" >−2</text>
<line x1="95.96" y1="502.90" x2="95.96" y2="505.20" stroke="#1a1a1a" stroke-width="0.9" />
<text x="95.96" y="514.40" font-size="6.2" fill="#2c2c2c" text-anchor="middle" >0</text>
<line x1="116.94" y1="502.90" x2="116.94" y2="505.20" stroke="#1a1a1a" stroke-width="0.9" />
<text x="116.94" y="514.40" font-size="6.2" fill="#2c2c2c" text-anchor="middle" >2</text>
<line x1="137.92" y1="502.90" x2="137.92" y2="505.20" stroke="#1a1a1a" stroke-width="0.9" />
<text x="137.92" y="514.40" font-size="6.2" fill="#2c2c2c" text-anchor="middle" >4</text>
<line x1="158.90" y1="502.90" x2="158.90" y2="505.20" stroke="#1a1a1a" stroke-width="0.9" />
<text x="158.90" y="514.40" font-size="6.2" fill="#2c2c2c" text-anchor="middle" >≥6</text>
<text x="105.80" y="524.60" font-size="7.5" fill="#1a1a1a" text-anchor="middle" textLength="65.5" lengthAdjust="spacingAndGlyphs" stroke="#1a1a1a" stroke-width="0.3">Days relative to CRS onset</text>
<text transform="translate(20.90,452.45) rotate(-90)" x="0" y="2.38" font-size="6.6" fill="#1a1a1a" text-anchor="middle" textLength="32.0" lengthAdjust="spacingAndGlyphs" stroke="#1a1a1a" stroke-width="0.3">IL18 (pg/mL)</text>
<text x="54.50" y="413.1" font-size="6.4" fill="#222" textLength="25.6" lengthAdjust="spacing"><tspan font-style="italic">P</tspan> = .0001</text>
<polygon points="217.60,474.02 220.15,472.64 222.70,471.24 225.26,469.81 227.81,468.36 230.36,466.88 232.91,465.38 235.47,463.87 238.02,462.33 240.57,460.77 243.12,459.19 245.68,457.60 248.23,456.00 250.78,454.37 253.33,452.74 255.89,451.09 258.44,449.44 260.99,447.77 263.55,446.10 266.10,444.42 268.65,442.73 271.20,441.03 273.75,439.33 276.31,437.63 278.86,435.91 281.41,434.20 283.96,432.48 286.52,430.76 289.07,429.03 291.62,427.30 294.18,425.57 296.73,423.84 299.28,422.10 301.83,420.36 304.38,418.62 306.94,416.88 309.49,415.13 312.04,413.39 314.59,411.64 317.15,409.89 319.70,408.14 319.70,436.42 317.15,437.53 314.59,438.63 312.04,439.73 309.49,440.84 306.94,441.95 304.38,443.06 301.83,444.17 299.28,445.28 296.73,446.40 294.18,447.51 291.62,448.64 289.07,449.76 286.52,450.88 283.96,452.01 281.41,453.15 278.86,454.28 276.31,455.42 273.75,456.57 271.20,457.72 268.65,458.88 266.10,460.04 263.55,461.21 260.99,462.39 258.44,463.57 255.89,464.77 253.33,465.98 250.78,467.20 248.23,468.43 245.68,469.67 243.12,470.93 240.57,472.21 238.02,473.50 235.47,474.81 232.91,476.15 230.36,477.50 227.81,478.88 225.26,480.28 222.70,481.70 220.15,483.15 217.60,484.63" fill="#b8b8b8" fill-opacity="0.42"/>
<polygon points="217.60,481.91 220.15,481.30 222.70,480.67 225.26,480.04 227.81,479.41 230.36,478.76 232.91,478.11 235.47,477.45 238.02,476.78 240.57,476.10 243.12,475.40 245.68,474.69 248.23,473.97 250.78,473.23 253.33,472.48 255.89,471.71 258.44,470.92 260.99,470.11 263.55,469.29 266.10,468.44 268.65,467.57 271.20,466.67 273.75,465.76 276.31,464.83 278.86,463.88 281.41,462.91 283.96,461.93 286.52,460.93 289.07,459.93 291.62,458.91 294.18,457.88 296.73,456.85 299.28,455.80 301.83,454.75 304.38,453.70 306.94,452.64 309.49,451.57 312.04,450.50 314.59,449.43 317.15,448.35 319.70,447.27 319.70,463.29 317.15,463.85 314.59,464.41 312.04,464.98 309.49,465.54 306.94,466.12 304.38,466.69 301.83,467.27 299.28,467.86 296.73,468.46 294.18,469.06 291.62,469.67 289.07,470.29 286.52,470.92 283.96,471.57 281.41,472.22 278.86,472.90 276.31,473.58 273.75,474.29 271.20,475.01 268.65,475.76 266.10,476.53 263.55,477.31 260.99,478.13 258.44,478.96 255.89,479.81 253.33,480.68 250.78,481.56 248.23,482.46 245.68,483.38 243.12,484.30 240.57,485.25 238.02,486.20 235.47,487.17 232.91,488.15 230.36,489.13 227.81,490.13 225.26,491.13 222.70,492.14 220.15,493.15 217.60,494.17" fill="#b8b8b8" fill-opacity="0.42"/>
<circle cx="217.60" cy="465.89" r="1.5" fill="#6e0a22"/>
<circle cx="217.60" cy="470.13" r="1.5" fill="#6e0a22"/>
<circle cx="217.60" cy="472.49" r="1.5" fill="#6e0a22"/>
<circle cx="217.60" cy="480.74" r="1.5" fill="#6e0a22"/>
<circle cx="217.60" cy="482.39" r="1.5" fill="#0c2436"/>
<circle cx="217.60" cy="483.80" r="1.5" fill="#6e0a22"/>
<circle cx="217.60" cy="485.21" r="1.5" fill="#0c2436"/>
<circle cx="217.60" cy="486.63" r="1.5" fill="#0c2436"/>
<circle cx="238.02" cy="456.46" r="1.5" fill="#6e0a22"/>
<circle cx="238.02" cy="466.12" r="1.5" fill="#6e0a22"/>
<circle cx="238.02" cy="480.74" r="1.5" fill="#6e0a22"/>
<circle cx="238.02" cy="481.91" r="1.5" fill="#0c2436"/>
<circle cx="238.02" cy="483.80" r="1.5" fill="#6e0a22"/>
<circle cx="238.02" cy="485.45" r="1.5" fill="#0c2436"/>
<circle cx="238.02" cy="487.10" r="1.5" fill="#0c2436"/>
<circle cx="258.44" cy="415.21" r="1.5" fill="#6e0a22"/>
<circle cx="258.44" cy="445.38" r="1.5" fill="#6e0a22"/>
<circle cx="258.44" cy="467.07" r="1.5" fill="#6e0a22"/>
<circle cx="258.44" cy="476.02" r="1.5" fill="#0c2436"/>
<circle cx="258.44" cy="478.38" r="1.5" fill="#0c2436"/>
<circle cx="258.44" cy="479.56" r="1.5" fill="#6e0a22"/>
<circle cx="258.44" cy="485.45" r="1.5" fill="#0c2436"/>
<circle cx="258.44" cy="486.63" r="1.5" fill="#6e0a22"/>
<circle cx="258.44" cy="487.81" r="1.5" fill="#6e0a22"/>
<circle cx="278.86" cy="415.21" r="1.5" fill="#6e0a22"/>
<circle cx="278.86" cy="421.10" r="1.5" fill="#0c2436"/>
<circle cx="278.86" cy="454.34" r="1.5" fill="#6e0a22"/>
<circle cx="278.86" cy="461.88" r="1.5" fill="#0c2436"/>
<circle cx="278.86" cy="467.77" r="1.5" fill="#6e0a22"/>
<circle cx="278.86" cy="472.49" r="1.5" fill="#0c2436"/>
<circle cx="278.86" cy="479.56" r="1.5" fill="#0c2436"/>
<circle cx="278.86" cy="483.09" r="1.5" fill="#6e0a22"/>
<circle cx="299.28" cy="408.85" r="1.5" fill="#6e0a22"/>
<circle cx="299.28" cy="415.21" r="1.5" fill="#6e0a22"/>
<circle cx="299.28" cy="430.06" r="1.5" fill="#0c2436"/>
<circle cx="299.28" cy="433.60" r="1.5" fill="#0c2436"/>
<circle cx="299.28" cy="445.38" r="1.5" fill="#0c2436"/>
<circle cx="299.28" cy="465.42" r="1.5" fill="#6e0a22"/>
<circle cx="299.28" cy="467.77" r="1.5" fill="#6e0a22"/>
<circle cx="299.28" cy="477.67" r="1.5" fill="#0c2436"/>
<circle cx="319.70" cy="408.85" r="1.5" fill="#6e0a22"/>
<circle cx="319.70" cy="415.21" r="1.5" fill="#6e0a22"/>
<circle cx="319.70" cy="451.27" r="1.5" fill="#0c2436"/>
<circle cx="319.70" cy="459.52" r="1.5" fill="#0c2436"/>
<circle cx="319.70" cy="470.60" r="1.5" fill="#0c2436"/>
<circle cx="319.70" cy="475.32" r="1.5" fill="#6e0a22"/>
<circle cx="319.70" cy="476.73" r="1.5" fill="#6e0a22"/>
<line x1="217.60" y1="479.32" x2="319.70" y2="422.28" stroke="#b0173e" stroke-width="1.1" />
<line x1="217.60" y1="488.04" x2="319.70" y2="455.28" stroke="#1f4262" stroke-width="1.1" />
<line x1="212.70" y1="402.40" x2="212.70" y2="502.90" stroke="#1a1a1a" stroke-width="1.1" />
<line x1="212.70" y1="502.90" x2="321.90" y2="502.90" stroke="#1a1a1a" stroke-width="1.1" />
<line x1="210.40" y1="493.70" x2="212.70" y2="493.70" stroke="#1a1a1a" stroke-width="0.9" />
<text x="206.80" y="495.90" font-size="6.2" fill="#2c2c2c" text-anchor="end" >0e+00</text>
<line x1="210.40" y1="470.13" x2="212.70" y2="470.13" stroke="#1a1a1a" stroke-width="0.9" />
<text x="206.80" y="472.33" font-size="6.2" fill="#2c2c2c" text-anchor="end" >1e+05</text>
<line x1="210.40" y1="446.56" x2="212.70" y2="446.56" stroke="#1a1a1a" stroke-width="0.9" />
<text x="206.80" y="448.76" font-size="6.2" fill="#2c2c2c" text-anchor="end" >2e+05</text>
<line x1="210.40" y1="422.99" x2="212.70" y2="422.99" stroke="#1a1a1a" stroke-width="0.9" />
<text x="206.80" y="425.19" font-size="6.2" fill="#2c2c2c" text-anchor="end" >3e+05</text>
<line x1="217.60" y1="502.90" x2="217.60" y2="505.20" stroke="#1a1a1a" stroke-width="0.9" />
<text x="217.60" y="514.40" font-size="6.2" fill="#2c2c2c" text-anchor="middle" >−4</text>
<line x1="238.02" y1="502.90" x2="238.02" y2="505.20" stroke="#1a1a1a" stroke-width="0.9" />
<text x="238.02" y="514.40" font-size="6.2" fill="#2c2c2c" text-anchor="middle" >−2</text>
<line x1="258.44" y1="502.90" x2="258.44" y2="505.20" stroke="#1a1a1a" stroke-width="0.9" />
<text x="258.44" y="514.40" font-size="6.2" fill="#2c2c2c" text-anchor="middle" >0</text>
<line x1="278.86" y1="502.90" x2="278.86" y2="505.20" stroke="#1a1a1a" stroke-width="0.9" />
<text x="278.86" y="514.40" font-size="6.2" fill="#2c2c2c" text-anchor="middle" >2</text>
<line x1="299.28" y1="502.90" x2="299.28" y2="505.20" stroke="#1a1a1a" stroke-width="0.9" />
<text x="299.28" y="514.40" font-size="6.2" fill="#2c2c2c" text-anchor="middle" >4</text>
<line x1="319.70" y1="502.90" x2="319.70" y2="505.20" stroke="#1a1a1a" stroke-width="0.9" />
<text x="319.70" y="514.40" font-size="6.2" fill="#2c2c2c" text-anchor="middle" >≥6</text>
<text x="268.50" y="524.60" font-size="7.5" fill="#1a1a1a" text-anchor="middle" textLength="65.5" lengthAdjust="spacingAndGlyphs" stroke="#1a1a1a" stroke-width="0.3">Days relative to CRS onset</text>
<text transform="translate(179.10,453.15) rotate(-90)" x="0" y="2.38" font-size="6.6" fill="#1a1a1a" text-anchor="middle" textLength="40.0" lengthAdjust="spacingAndGlyphs" stroke="#1a1a1a" stroke-width="0.3">IL18BP (pg/mL)</text>
<text x="220.00" y="413.1" font-size="6.4" fill="#222" textLength="26.8" lengthAdjust="spacing"><tspan font-style="italic">P</tspan> = .0410</text>
<polygon points="367.70,471.66 370.47,471.27 373.25,470.88 376.02,470.48 378.80,470.07 381.57,469.65 384.35,469.22 387.12,468.77 389.90,468.32 392.68,467.85 395.45,467.36 398.22,466.85 401.00,466.31 403.77,465.76 406.55,465.17 409.32,464.55 412.10,463.89 414.88,463.19 417.65,462.46 420.43,461.67 423.20,460.84 425.97,459.97 428.75,459.03 431.52,458.05 434.30,457.02 437.07,455.95 439.85,454.84 442.62,453.69 445.40,452.51 448.17,451.30 450.95,450.06 453.73,448.81 456.50,447.54 459.27,446.25 462.05,444.94 464.82,443.63 467.60,442.30 470.38,440.96 473.15,439.62 475.92,438.27 478.70,436.91 478.70,463.35 475.92,463.69 473.15,464.04 470.38,464.40 467.60,464.77 464.82,465.15 462.05,465.53 459.27,465.93 456.50,466.35 453.73,466.78 450.95,467.23 448.17,467.70 445.40,468.19 442.62,468.71 439.85,469.27 437.07,469.86 434.30,470.49 431.52,471.16 428.75,471.88 425.97,472.65 423.20,473.48 420.43,474.35 417.65,475.28 414.88,476.24 412.10,477.25 409.32,478.29 406.55,479.38 403.77,480.49 401.00,481.64 398.22,482.81 395.45,484.00 392.68,485.21 389.90,486.45 387.12,487.69 384.35,488.95 381.57,490.23 378.80,491.51 376.02,492.81 373.25,494.11 370.47,495.42 367.70,496.74" fill="#b8b8b8" fill-opacity="0.42"/>
<polygon points="367.70,475.50 370.47,475.67 373.25,475.83 376.02,476.00 378.80,476.16 381.57,476.31 384.35,476.46 387.12,476.60 389.90,476.73 392.68,476.86 395.45,476.97 398.22,477.08 401.00,477.17 403.77,477.25 406.55,477.31 409.32,477.35 412.10,477.38 414.88,477.38 417.65,477.36 420.43,477.32 423.20,477.25 425.97,477.15 428.75,477.02 431.52,476.86 434.30,476.68 437.07,476.47 439.85,476.24 442.62,475.99 445.40,475.72 448.17,475.43 450.95,475.14 453.73,474.83 456.50,474.51 459.27,474.18 462.05,473.84 464.82,473.50 467.60,473.15 470.38,472.79 473.15,472.43 475.92,472.07 478.70,471.71 478.70,486.29 475.92,486.09 473.15,485.89 470.38,485.69 467.60,485.51 464.82,485.32 462.05,485.14 459.27,484.97 456.50,484.81 453.73,484.65 450.95,484.51 448.17,484.38 445.40,484.26 442.62,484.15 439.85,484.07 437.07,484.00 434.30,483.96 431.52,483.94 428.75,483.95 425.97,483.98 423.20,484.05 420.43,484.15 417.65,484.27 414.88,484.41 412.10,484.58 409.32,484.77 406.55,484.98 403.77,485.21 401.00,485.45 398.22,485.71 395.45,485.98 392.68,486.26 389.90,486.55 387.12,486.85 384.35,487.15 381.57,487.46 378.80,487.78 376.02,488.11 373.25,488.44 370.47,488.77 367.70,489.10" fill="#b8b8b8" fill-opacity="0.42"/>
<circle cx="367.70" cy="479.00" r="1.5" fill="#6e0a22"/>
<circle cx="367.70" cy="479.97" r="1.5" fill="#0c2436"/>
<circle cx="367.70" cy="485.80" r="1.5" fill="#6e0a22"/>
<circle cx="389.90" cy="456.64" r="1.5" fill="#6e0a22"/>
<circle cx="389.90" cy="474.62" r="1.5" fill="#6e0a22"/>
<circle cx="389.90" cy="475.59" r="1.5" fill="#0c2436"/>
<circle cx="389.90" cy="484.83" r="1.5" fill="#6e0a22"/>
<circle cx="389.90" cy="485.80" r="1.5" fill="#6e0a22"/>
<circle cx="412.10" cy="461.01" r="1.5" fill="#6e0a22"/>
<circle cx="412.10" cy="463.44" r="1.5" fill="#0c2436"/>
<circle cx="412.10" cy="475.11" r="1.5" fill="#6e0a22"/>
<circle cx="412.10" cy="480.94" r="1.5" fill="#6e0a22"/>
<circle cx="412.10" cy="485.80" r="1.5" fill="#6e0a22"/>
<circle cx="434.30" cy="422.62" r="1.5" fill="#0c2436"/>
<circle cx="434.30" cy="429.91" r="1.5" fill="#6e0a22"/>
<circle cx="434.30" cy="444.49" r="1.5" fill="#6e0a22"/>
<circle cx="434.30" cy="460.53" r="1.5" fill="#6e0a22"/>
<circle cx="434.30" cy="475.11" r="1.5" fill="#6e0a22"/>
<circle cx="434.30" cy="480.94" r="1.5" fill="#0c2436"/>
<circle cx="434.30" cy="483.37" r="1.5" fill="#6e0a22"/>
<circle cx="434.30" cy="485.31" r="1.5" fill="#6e0a22"/>
<circle cx="456.50" cy="407.07" r="1.5" fill="#6e0a22"/>
<circle cx="456.50" cy="436.71" r="1.5" fill="#6e0a22"/>
<circle cx="456.50" cy="471.22" r="1.5" fill="#6e0a22"/>
<circle cx="456.50" cy="472.68" r="1.5" fill="#6e0a22"/>
<circle cx="456.50" cy="485.80" r="1.5" fill="#6e0a22"/>
<circle cx="478.70" cy="407.55" r="1.5" fill="#6e0a22"/>
<circle cx="478.70" cy="449.35" r="1.5" fill="#6e0a22"/>
<circle cx="478.70" cy="453.72" r="1.5" fill="#6e0a22"/>
<circle cx="478.70" cy="468.79" r="1.5" fill="#0c2436"/>
<circle cx="478.70" cy="473.65" r="1.5" fill="#6e0a22"/>
<circle cx="478.70" cy="479.48" r="1.5" fill="#0c2436"/>
<circle cx="478.70" cy="481.91" r="1.5" fill="#6e0a22"/>
<circle cx="478.70" cy="485.80" r="1.5" fill="#0c2436"/>
<line x1="367.70" y1="484.20" x2="478.70" y2="450.13" stroke="#b0173e" stroke-width="1.1" />
<line x1="367.70" y1="482.30" x2="478.70" y2="479.00" stroke="#1f4262" stroke-width="1.1" />
<line x1="362.40" y1="402.40" x2="362.40" y2="502.90" stroke="#1a1a1a" stroke-width="1.1" />
<line x1="362.40" y1="502.90" x2="480.60" y2="502.90" stroke="#1a1a1a" stroke-width="1.1" />
<line x1="360.10" y1="485.80" x2="362.40" y2="485.80" stroke="#1a1a1a" stroke-width="0.9" />
<text x="356.50" y="488.00" font-size="6.2" fill="#2c2c2c" text-anchor="end" >0</text>
<line x1="360.10" y1="461.50" x2="362.40" y2="461.50" stroke="#1a1a1a" stroke-width="0.9" />
<text x="356.50" y="463.70" font-size="6.2" fill="#2c2c2c" text-anchor="end" >5</text>
<line x1="360.10" y1="437.20" x2="362.40" y2="437.20" stroke="#1a1a1a" stroke-width="0.9" />
<text x="356.50" y="439.40" font-size="6.2" fill="#2c2c2c" text-anchor="end" >10</text>
<line x1="360.10" y1="412.90" x2="362.40" y2="412.90" stroke="#1a1a1a" stroke-width="0.9" />
<text x="356.50" y="415.10" font-size="6.2" fill="#2c2c2c" text-anchor="end" >15</text>
<line x1="367.70" y1="502.90" x2="367.70" y2="505.20" stroke="#1a1a1a" stroke-width="0.9" />
<text x="367.70" y="514.40" font-size="6.2" fill="#2c2c2c" text-anchor="middle" >−4</text>
<line x1="389.90" y1="502.90" x2="389.90" y2="505.20" stroke="#1a1a1a" stroke-width="0.9" />
<text x="389.90" y="514.40" font-size="6.2" fill="#2c2c2c" text-anchor="middle" >−2</text>
<line x1="412.10" y1="502.90" x2="412.10" y2="505.20" stroke="#1a1a1a" stroke-width="0.9" />
<text x="412.10" y="514.40" font-size="6.2" fill="#2c2c2c" text-anchor="middle" >0</text>
<line x1="434.30" y1="502.90" x2="434.30" y2="505.20" stroke="#1a1a1a" stroke-width="0.9" />
<text x="434.30" y="514.40" font-size="6.2" fill="#2c2c2c" text-anchor="middle" >2</text>
<line x1="456.50" y1="502.90" x2="456.50" y2="505.20" stroke="#1a1a1a" stroke-width="0.9" />
<text x="456.50" y="514.40" font-size="6.2" fill="#2c2c2c" text-anchor="middle" >4</text>
<line x1="478.70" y1="502.90" x2="478.70" y2="505.20" stroke="#1a1a1a" stroke-width="0.9" />
<text x="478.70" y="514.40" font-size="6.2" fill="#2c2c2c" text-anchor="middle" >≥6</text>
<text x="422.70" y="524.60" font-size="7.5" fill="#1a1a1a" text-anchor="middle" textLength="65.5" lengthAdjust="spacingAndGlyphs" stroke="#1a1a1a" stroke-width="0.3">Days relative to CRS onset</text>
<text transform="translate(341.45,453.20) rotate(-90)" x="0" y="2.38" font-size="6.6" fill="#1a1a1a" text-anchor="middle" textLength="44.0" lengthAdjust="spacingAndGlyphs" stroke="#1a1a1a" stroke-width="0.3">Free IL18 (pg/mL)</text>
<text x="370.00" y="413.1" font-size="6.4" fill="#222" textLength="26.8" lengthAdjust="spacing"><tspan font-style="italic">P</tspan> = .0120</text>
<line x1="378.10" y1="535.00" x2="387.70" y2="535.00" stroke="#1f4262" stroke-width="1.3" />
<circle cx="383.0" cy="535" r="1.35" fill="#112c44"/>
<text x="390.80" y="537.10" font-size="5.95" fill="#2a2a2a" text-anchor="start" stroke="#2a2a2a" stroke-width="0.15">CRS Only</text>
<line x1="426.70" y1="535.00" x2="436.30" y2="535.00" stroke="#b0173e" stroke-width="1.3" />
<circle cx="431.5" cy="535" r="1.35" fill="#8c0e2e"/>
<text x="438.80" y="537.10" font-size="5.95" fill="#2a2a2a" text-anchor="start" stroke="#2a2a2a" stroke-width="0.15">CAR-HLH</text>
<line x1="518.5" y1="0" x2="518.5" y2="545" stroke="#b0b0b0" stroke-width="1"/>
<line x1="0" y1="543.5" x2="520" y2="543.5" stroke="#c0c0c0" stroke-width="1"/>
<rect x="0.5" y="0.5" width="519" height="544" fill="none" stroke="#5f5f5f" stroke-width="1"/>
</svg>
</body></html>
